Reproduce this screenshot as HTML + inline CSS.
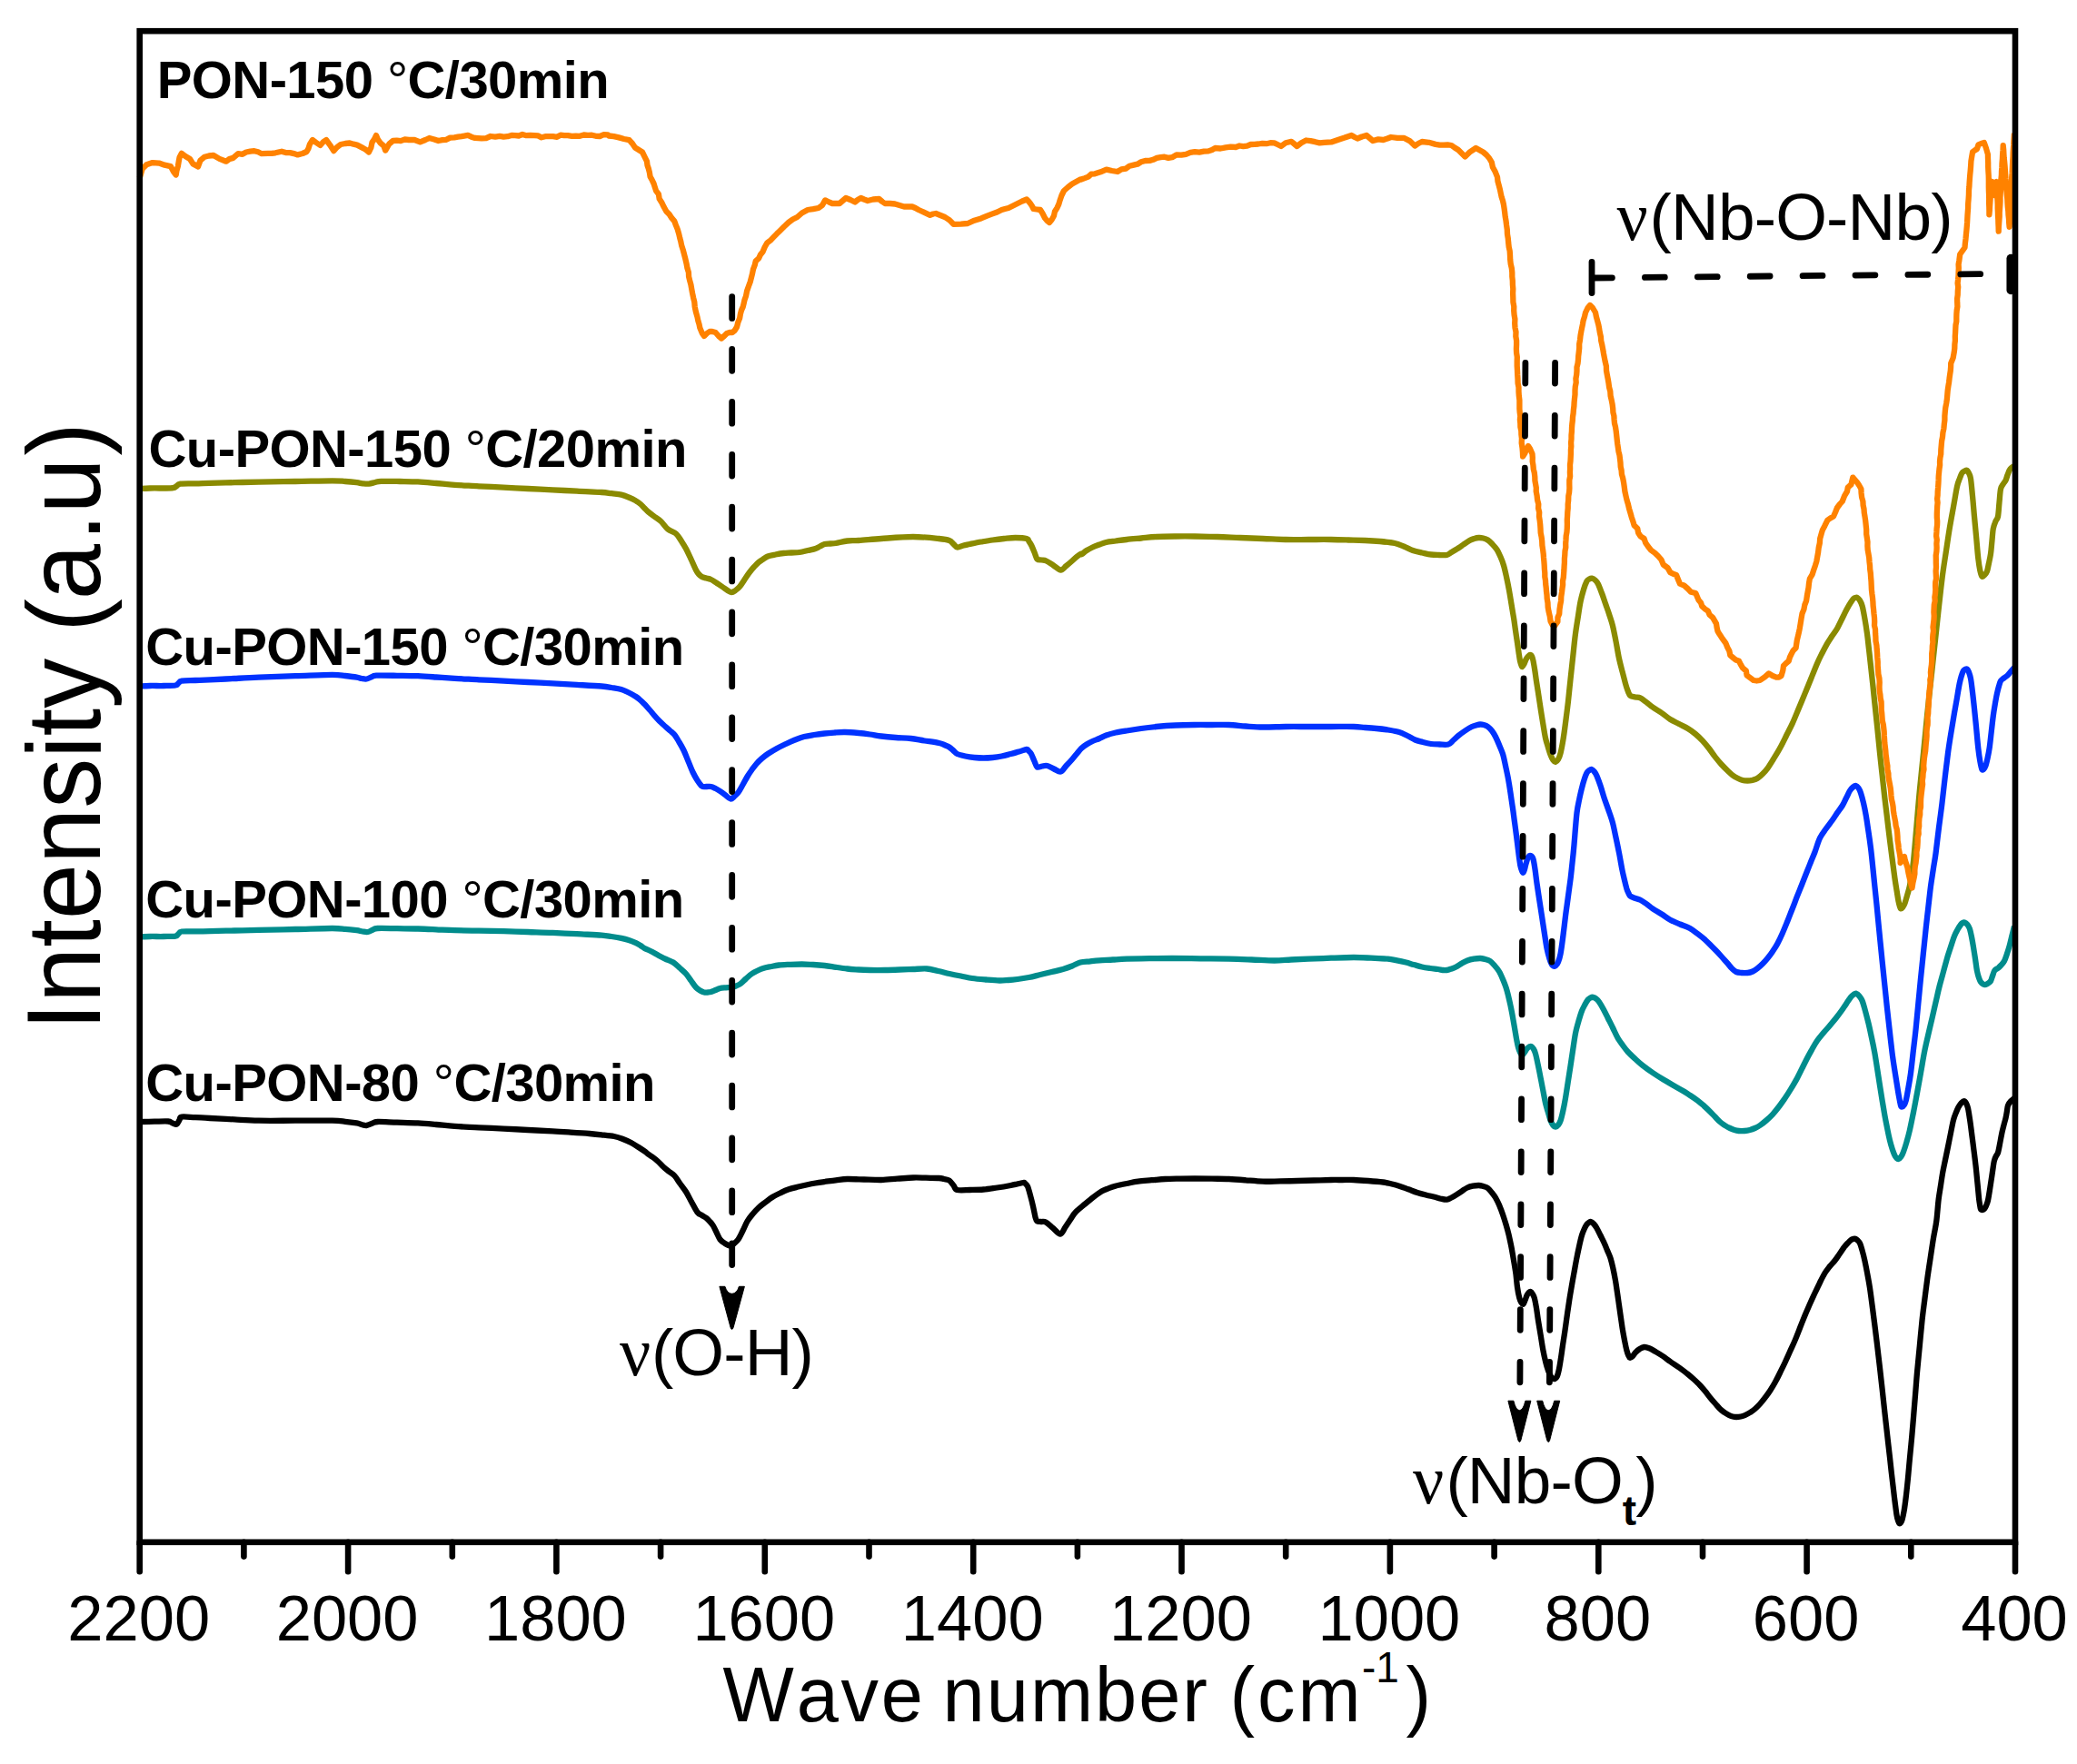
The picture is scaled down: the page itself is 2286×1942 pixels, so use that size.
<!DOCTYPE html>
<html><head><meta charset="utf-8"><title>FTIR spectra</title>
<style>html,body{margin:0;padding:0;background:#fff}svg{display:block}text{font-kerning:none;font-variant-ligatures:none}</style></head>
<body>
<svg width="2286" height="1942" viewBox="0 0 2286 1942">
<rect width="2286" height="1942" fill="#fff"/>
<g>
<g fill="none" stroke-linejoin="round" stroke-linecap="butt" stroke-width="6.3">
<path stroke="#000" d="M153.7 1235.0C156.4 1235.0 164.8 1234.8 170.0 1234.7C175.2 1234.6 181.7 1234.2 185.0 1234.5C188.3 1234.8 188.4 1236.0 190.0 1236.5C191.6 1237.0 193.2 1238.3 194.5 1237.7C195.8 1237.1 196.6 1234.3 197.5 1233.0C198.4 1231.7 197.1 1230.1 200.0 1229.6C202.9 1229.1 209.8 1230.0 215.0 1230.2C220.2 1230.4 223.8 1230.6 231.0 1231.0C238.2 1231.4 249.0 1232.0 258.0 1232.4C267.0 1232.9 273.6 1233.5 284.8 1233.7C296.0 1233.9 311.5 1233.7 325.0 1233.7C338.5 1233.7 356.5 1233.5 365.7 1233.7C374.9 1233.9 375.5 1234.3 380.0 1234.8C384.5 1235.2 389.6 1235.9 392.6 1236.4C395.6 1236.9 396.2 1237.6 398.0 1238.0C399.8 1238.4 401.5 1239.2 403.4 1239.0C405.3 1238.8 407.5 1237.5 409.5 1236.8C411.5 1236.1 411.0 1235.2 415.6 1235.0C420.2 1234.8 429.6 1235.5 437.0 1235.7C444.4 1235.9 452.8 1236.0 460.0 1236.4C467.2 1236.8 473.2 1237.4 480.0 1238.0C486.8 1238.6 492.7 1239.4 500.5 1239.9C508.3 1240.5 518.0 1240.8 527.0 1241.3C536.0 1241.8 545.4 1242.1 554.4 1242.6C563.4 1243.0 572.0 1243.5 581.0 1244.0C590.0 1244.5 600.5 1244.9 608.3 1245.3C616.1 1245.7 621.2 1246.1 628.0 1246.6C634.8 1247.0 643.1 1247.5 648.8 1248.0C654.5 1248.5 657.5 1248.8 662.0 1249.3C666.5 1249.8 672.0 1250.3 675.8 1251.0C679.6 1251.7 681.9 1252.5 685.0 1253.7C688.1 1254.9 691.8 1256.5 694.6 1258.0C697.4 1259.5 699.5 1260.9 702.0 1262.5C704.5 1264.1 707.4 1266.0 709.4 1267.4C711.4 1268.8 712.5 1269.9 714.0 1271.0C715.5 1272.1 716.8 1272.8 718.5 1274.0C720.2 1275.2 722.1 1276.8 724.0 1278.5C725.9 1280.2 728.0 1282.7 730.0 1284.5C732.0 1286.3 733.9 1287.8 736.0 1289.5C738.1 1291.2 740.4 1292.2 742.5 1294.5C744.6 1296.8 746.4 1300.1 748.5 1303.0C750.6 1305.9 752.9 1308.7 755.0 1312.0C757.1 1315.3 758.9 1319.2 761.0 1323.0C763.1 1326.8 765.6 1332.0 767.5 1334.5C769.4 1337.0 770.8 1336.9 772.5 1338.0C774.2 1339.1 776.0 1339.8 777.5 1341.0C779.0 1342.2 780.2 1343.6 781.5 1345.0C782.8 1346.4 783.8 1347.5 785.0 1349.5C786.2 1351.5 787.5 1354.5 788.7 1357.0C790.0 1359.5 791.0 1362.5 792.5 1364.5C794.0 1366.5 796.1 1367.8 798.0 1369.0C799.9 1370.2 802.3 1371.5 804.0 1371.5C805.7 1371.5 806.6 1370.2 808.0 1369.0C809.4 1367.8 810.9 1366.8 812.5 1364.5C814.1 1362.2 815.8 1358.3 817.5 1355.0C819.2 1351.7 820.7 1347.6 822.5 1344.5C824.3 1341.4 826.4 1339.0 828.5 1336.5C830.6 1334.0 832.7 1331.7 835.0 1329.5C837.3 1327.3 840.0 1325.4 842.5 1323.5C845.0 1321.6 847.3 1319.7 850.0 1318.0C852.7 1316.3 855.6 1314.9 858.5 1313.5C861.4 1312.1 864.3 1310.6 867.5 1309.5C870.7 1308.4 874.2 1307.6 877.5 1306.8C880.8 1306.0 884.2 1305.2 887.5 1304.5C890.8 1303.8 894.2 1303.1 897.5 1302.5C900.8 1301.9 903.8 1301.5 907.5 1301.0C911.2 1300.5 915.8 1299.8 920.0 1299.3C924.2 1298.8 927.3 1298.1 932.5 1298.0C937.7 1297.9 944.8 1298.3 951.0 1298.5C957.2 1298.7 963.9 1299.1 970.0 1299.0C976.1 1298.9 981.7 1298.1 987.5 1297.7C993.3 1297.3 999.8 1296.7 1005.0 1296.5C1010.2 1296.3 1014.3 1296.6 1019.0 1296.7C1023.7 1296.8 1030.1 1296.8 1033.4 1297.0C1036.8 1297.2 1037.2 1297.6 1039.1 1298.0C1040.9 1298.4 1042.9 1298.3 1044.7 1299.5C1046.4 1300.7 1048.0 1303.2 1049.5 1305.0C1051.0 1306.8 1050.5 1309.2 1053.5 1310.0C1056.5 1310.8 1062.7 1310.1 1067.5 1310.0C1072.3 1309.9 1077.5 1309.9 1082.5 1309.5C1087.5 1309.1 1092.5 1308.2 1097.5 1307.5C1102.5 1306.8 1108.8 1305.7 1112.5 1305.0C1116.2 1304.3 1117.2 1304.0 1119.5 1303.5C1121.8 1303.0 1125.1 1302.2 1126.5 1302.0C1127.9 1301.8 1127.2 1301.8 1128.0 1302.5C1128.8 1303.2 1130.0 1303.8 1131.0 1306.0C1132.0 1308.2 1133.0 1312.3 1134.0 1316.0C1135.0 1319.7 1136.1 1324.0 1137.0 1328.0C1137.9 1332.0 1138.8 1337.2 1139.5 1340.0C1140.2 1342.8 1140.4 1343.7 1141.5 1344.5C1142.6 1345.3 1144.4 1344.8 1146.0 1345.0C1147.6 1345.2 1148.8 1344.3 1151.0 1345.5C1153.2 1346.7 1156.3 1349.8 1159.0 1352.0C1161.7 1354.2 1164.8 1358.7 1167.0 1358.5C1169.2 1358.3 1170.6 1353.8 1172.5 1351.0C1174.4 1348.2 1176.6 1344.8 1178.5 1342.0C1180.4 1339.2 1181.1 1337.2 1183.8 1334.5C1186.4 1331.8 1191.5 1327.8 1194.2 1325.5C1196.9 1323.2 1198.0 1322.3 1200.0 1320.7C1202.0 1319.1 1203.9 1317.5 1206.0 1316.0C1208.1 1314.5 1210.2 1312.8 1212.5 1311.5C1214.8 1310.2 1217.5 1309.3 1220.0 1308.3C1222.5 1307.3 1224.2 1306.6 1227.5 1305.7C1230.8 1304.8 1235.8 1303.8 1240.0 1303.0C1244.2 1302.2 1247.9 1301.3 1252.5 1300.7C1257.1 1300.1 1262.5 1299.7 1267.5 1299.2C1272.5 1298.8 1277.2 1298.3 1282.5 1298.0C1287.8 1297.7 1293.6 1297.7 1299.0 1297.6C1304.4 1297.5 1309.2 1297.5 1315.0 1297.5C1320.8 1297.5 1327.8 1297.6 1334.0 1297.7C1340.2 1297.8 1346.3 1297.7 1352.5 1298.0C1358.7 1298.3 1364.8 1298.8 1371.0 1299.3C1377.2 1299.8 1383.7 1300.5 1390.0 1300.7C1396.3 1300.9 1402.8 1300.5 1409.0 1300.4C1415.2 1300.3 1421.3 1300.2 1427.5 1300.0C1433.7 1299.8 1439.8 1299.7 1446.0 1299.5C1452.2 1299.3 1459.8 1299.1 1465.0 1299.0C1470.2 1298.9 1473.3 1299.0 1477.5 1299.0C1481.7 1299.0 1485.2 1298.8 1490.0 1299.0C1494.8 1299.2 1500.6 1299.6 1506.0 1300.0C1511.4 1300.4 1518.3 1301.0 1522.5 1301.5C1526.7 1302.0 1528.1 1302.6 1531.0 1303.3C1533.9 1304.0 1536.8 1304.7 1540.0 1305.7C1543.2 1306.7 1546.7 1308.1 1550.0 1309.3C1553.3 1310.5 1556.7 1311.9 1560.0 1313.0C1563.3 1314.1 1566.7 1314.9 1570.0 1315.7C1573.3 1316.5 1577.3 1317.3 1580.0 1318.0C1582.7 1318.7 1583.9 1319.2 1586.0 1319.7C1588.1 1320.2 1590.6 1320.9 1592.5 1320.7C1594.4 1320.5 1595.8 1319.3 1597.5 1318.5C1599.2 1317.7 1600.6 1316.9 1602.5 1315.7C1604.4 1314.5 1606.9 1312.7 1609.0 1311.3C1611.1 1309.9 1613.0 1308.4 1615.0 1307.5C1617.0 1306.6 1618.9 1306.1 1621.0 1305.7C1623.1 1305.3 1625.6 1305.0 1627.5 1305.0C1629.4 1305.0 1630.8 1305.5 1632.5 1306.0C1634.2 1306.5 1635.9 1306.8 1637.5 1308.0C1639.1 1309.2 1640.6 1311.2 1642.0 1313.0C1643.4 1314.8 1644.7 1316.2 1646.0 1318.5C1647.3 1320.8 1648.7 1323.4 1650.0 1326.5C1651.3 1329.6 1652.8 1333.4 1654.0 1337.0C1655.2 1340.6 1656.4 1344.3 1657.5 1348.0C1658.6 1351.7 1659.6 1355.2 1660.5 1359.0C1661.4 1362.8 1662.2 1366.8 1663.0 1370.5C1663.8 1374.2 1664.4 1377.9 1665.0 1381.5C1665.6 1385.1 1666.2 1388.4 1666.8 1392.0C1667.4 1395.6 1668.0 1398.8 1668.5 1403.0C1669.0 1407.2 1669.4 1412.7 1670.0 1417.0C1670.6 1421.3 1671.6 1426.2 1672.3 1429.0C1673.0 1431.8 1673.7 1432.9 1674.4 1434.0C1675.1 1435.1 1675.8 1436.2 1676.5 1435.8C1677.2 1435.4 1677.8 1433.1 1678.5 1431.5C1679.2 1429.9 1679.9 1427.4 1680.6 1426.0C1681.3 1424.6 1681.9 1423.7 1682.6 1423.0C1683.3 1422.3 1684.0 1421.8 1684.7 1422.0C1685.4 1422.2 1686.1 1423.3 1686.8 1424.5C1687.5 1425.7 1688.1 1426.4 1688.8 1429.0C1689.5 1431.6 1690.3 1435.9 1691.0 1440.0C1691.7 1444.1 1692.2 1448.7 1693.0 1453.7C1693.8 1458.7 1694.8 1464.5 1695.7 1470.0C1696.6 1475.5 1697.5 1481.7 1698.4 1486.6C1699.3 1491.5 1700.3 1495.8 1701.2 1499.5C1702.1 1503.2 1703.1 1506.5 1704.0 1509.0C1704.9 1511.5 1705.7 1513.1 1706.5 1514.5C1707.3 1515.9 1708.2 1516.9 1709.0 1517.5C1709.8 1518.1 1710.5 1518.3 1711.3 1518.0C1712.1 1517.7 1712.9 1517.3 1713.7 1515.5C1714.5 1513.7 1715.3 1510.4 1716.0 1507.0C1716.7 1503.6 1717.3 1499.3 1718.0 1495.0C1718.7 1490.7 1719.3 1485.8 1720.0 1481.0C1720.7 1476.2 1721.5 1471.5 1722.3 1466.0C1723.1 1460.5 1724.0 1453.8 1724.8 1448.0C1725.6 1442.2 1726.5 1436.3 1727.3 1431.0C1728.1 1425.7 1729.0 1420.8 1729.8 1416.0C1730.6 1411.2 1731.4 1406.8 1732.3 1402.0C1733.2 1397.2 1734.0 1392.2 1735.0 1387.0C1736.0 1381.8 1737.3 1375.5 1738.3 1371.0C1739.3 1366.5 1740.1 1363.0 1741.0 1360.0C1741.9 1357.0 1742.8 1355.0 1743.7 1353.0C1744.6 1351.0 1745.6 1349.2 1746.4 1348.0C1747.2 1346.8 1747.9 1346.5 1748.7 1346.0C1749.5 1345.5 1750.1 1344.8 1751.0 1345.0C1751.9 1345.2 1753.1 1346.3 1754.2 1347.5C1755.3 1348.7 1756.2 1349.9 1757.4 1352.0C1758.6 1354.1 1760.1 1357.2 1761.5 1360.0C1762.9 1362.8 1764.5 1365.8 1765.7 1368.6C1767.0 1371.3 1767.9 1373.8 1769.0 1376.5C1770.1 1379.2 1771.5 1381.8 1772.5 1385.0C1773.5 1388.2 1774.4 1391.9 1775.3 1396.0C1776.2 1400.1 1777.2 1405.3 1778.0 1409.8C1778.8 1414.3 1779.3 1418.5 1780.0 1423.0C1780.7 1427.5 1781.3 1432.3 1782.0 1437.0C1782.7 1441.7 1783.3 1446.4 1784.0 1451.0C1784.7 1455.6 1785.3 1460.3 1786.0 1464.6C1786.7 1468.8 1787.5 1472.8 1788.2 1476.5C1788.9 1480.2 1789.7 1484.0 1790.4 1486.6C1791.1 1489.2 1791.6 1490.6 1792.2 1492.0C1792.8 1493.4 1793.2 1494.6 1794.0 1494.8C1794.8 1495.0 1796.0 1494.0 1797.0 1493.0C1798.0 1492.0 1798.7 1490.3 1800.0 1489.0C1801.3 1487.7 1803.2 1486.0 1804.8 1485.0C1806.4 1484.0 1807.8 1483.1 1809.6 1483.0C1811.4 1482.9 1813.7 1483.7 1815.8 1484.5C1817.9 1485.3 1819.6 1486.6 1822.0 1488.0C1824.4 1489.4 1827.5 1491.2 1830.2 1493.0C1832.9 1494.8 1835.4 1496.9 1838.4 1499.0C1841.4 1501.1 1844.8 1503.2 1848.0 1505.5C1851.2 1507.8 1854.9 1510.5 1857.6 1512.7C1860.3 1514.9 1862.1 1516.5 1864.3 1518.5C1866.5 1520.5 1868.9 1522.8 1871.0 1525.0C1873.1 1527.2 1874.8 1529.2 1876.7 1531.5C1878.6 1533.8 1880.5 1536.5 1882.3 1538.7C1884.1 1541.0 1885.9 1543.0 1887.7 1545.0C1889.5 1547.0 1891.3 1549.3 1893.0 1551.0C1894.7 1552.7 1896.3 1553.8 1898.0 1555.0C1899.7 1556.2 1901.5 1557.2 1903.0 1558.0C1904.5 1558.8 1905.7 1559.2 1907.0 1559.5C1908.3 1559.8 1909.5 1560.0 1911.0 1560.0C1912.5 1560.0 1914.4 1559.8 1916.0 1559.5C1917.6 1559.2 1919.0 1558.8 1920.7 1558.0C1922.4 1557.2 1924.4 1556.2 1926.2 1555.0C1928.0 1553.8 1929.9 1552.6 1931.7 1551.0C1933.5 1549.4 1935.4 1547.5 1937.2 1545.5C1939.0 1543.5 1940.9 1541.1 1942.7 1538.7C1944.5 1536.3 1946.4 1533.8 1948.2 1531.0C1950.0 1528.2 1951.8 1525.2 1953.6 1522.0C1955.4 1518.8 1957.2 1515.2 1959.0 1511.5C1960.8 1507.8 1962.8 1503.9 1964.6 1500.0C1966.4 1496.1 1968.2 1492.1 1970.0 1488.0C1971.8 1483.9 1973.8 1479.9 1975.6 1475.6C1977.4 1471.3 1979.2 1466.6 1981.0 1462.0C1982.8 1457.4 1984.8 1452.4 1986.6 1448.0C1988.4 1443.6 1990.2 1439.6 1992.0 1435.5C1993.8 1431.4 1995.7 1427.4 1997.5 1423.5C1999.3 1419.6 2001.2 1415.7 2003.0 1412.0C2004.8 1408.3 2006.7 1404.5 2008.5 1401.5C2010.3 1398.5 2012.2 1396.3 2014.0 1394.0C2015.8 1391.7 2017.8 1390.0 2019.5 1387.8C2021.2 1385.6 2022.7 1383.3 2024.3 1381.0C2025.9 1378.7 2027.5 1376.0 2029.0 1374.0C2030.5 1372.0 2031.8 1370.5 2033.2 1369.0C2034.6 1367.5 2036.2 1365.8 2037.3 1365.0C2038.4 1364.2 2038.9 1364.2 2039.7 1364.0C2040.5 1363.8 2041.2 1363.5 2042.0 1363.7C2042.8 1364.0 2043.7 1364.7 2044.5 1365.5C2045.3 1366.3 2046.1 1366.7 2047.0 1368.6C2047.9 1370.5 2048.8 1373.8 2049.7 1377.0C2050.6 1380.2 2051.5 1383.6 2052.4 1387.8C2053.3 1392.0 2054.3 1397.0 2055.2 1402.0C2056.1 1407.0 2057.1 1412.0 2058.0 1418.0C2058.9 1424.0 2059.8 1431.2 2060.7 1438.0C2061.6 1444.8 2062.5 1451.7 2063.4 1459.0C2064.3 1466.3 2065.3 1474.2 2066.2 1482.0C2067.1 1489.8 2068.1 1497.8 2069.0 1505.8C2069.9 1513.8 2070.8 1521.8 2071.7 1530.0C2072.6 1538.2 2073.5 1546.7 2074.4 1555.0C2075.3 1563.3 2076.3 1571.7 2077.2 1580.0C2078.1 1588.3 2079.2 1597.4 2080.0 1604.6C2080.8 1611.8 2081.3 1617.1 2082.0 1623.0C2082.7 1628.9 2083.4 1634.7 2084.0 1640.0C2084.6 1645.3 2085.2 1650.4 2085.8 1655.0C2086.4 1659.6 2087.0 1664.5 2087.5 1667.7C2088.0 1670.9 2088.5 1672.5 2089.0 1674.0C2089.5 1675.5 2089.8 1676.6 2090.3 1677.0C2090.8 1677.4 2091.4 1677.2 2092.0 1676.5C2092.6 1675.8 2093.0 1675.2 2093.6 1673.0C2094.2 1670.8 2095.0 1667.1 2095.7 1663.0C2096.4 1658.9 2097.0 1654.2 2097.7 1648.5C2098.4 1642.8 2099.1 1635.9 2099.8 1629.0C2100.5 1622.1 2101.1 1614.5 2101.8 1607.0C2102.5 1599.5 2103.3 1591.7 2104.0 1584.0C2104.7 1576.3 2105.3 1568.7 2106.0 1560.7C2106.7 1552.7 2107.3 1544.3 2108.0 1536.0C2108.7 1527.7 2109.2 1520.0 2110.0 1511.0C2110.8 1502.0 2111.9 1491.5 2112.8 1482.0C2113.7 1472.5 2114.6 1462.2 2115.5 1453.7C2116.4 1445.2 2117.4 1438.3 2118.3 1431.0C2119.2 1423.7 2120.0 1417.3 2121.0 1409.8C2122.0 1402.3 2123.3 1393.8 2124.5 1386.0C2125.7 1378.2 2126.8 1370.1 2128.0 1363.0C2129.2 1355.9 2130.5 1350.7 2131.4 1343.5C2132.3 1336.3 2132.9 1326.4 2133.7 1320.0C2134.5 1313.6 2135.3 1309.7 2136.0 1305.0C2136.7 1300.3 2137.2 1296.7 2138.0 1292.0C2138.8 1287.3 2140.0 1281.9 2141.0 1277.0C2142.0 1272.1 2143.0 1267.4 2144.0 1262.5C2145.0 1257.6 2146.0 1252.4 2147.0 1247.5C2148.0 1242.6 2149.0 1236.8 2150.0 1233.0C2151.0 1229.2 2152.0 1227.0 2153.0 1224.5C2154.0 1222.0 2154.9 1220.0 2155.8 1218.3C2156.8 1216.6 2157.7 1215.2 2158.7 1214.2C2159.7 1213.2 2160.7 1212.2 2161.6 1212.2C2162.5 1212.2 2163.3 1213.2 2164.0 1214.5C2164.7 1215.8 2165.3 1217.1 2166.0 1220.0C2166.7 1222.9 2167.3 1227.5 2168.0 1232.0C2168.7 1236.5 2169.3 1241.5 2170.0 1247.0C2170.7 1252.5 2171.6 1259.0 2172.3 1265.0C2173.1 1271.0 2173.8 1277.0 2174.5 1283.0C2175.2 1289.0 2175.7 1295.0 2176.3 1301.0C2176.9 1307.0 2177.6 1314.5 2178.0 1318.7C2178.4 1322.9 2178.7 1324.0 2179.0 1326.0C2179.3 1328.0 2179.5 1330.0 2180.0 1331.0C2180.5 1332.0 2181.3 1332.0 2182.0 1332.0C2182.7 1332.0 2183.3 1331.8 2184.0 1331.0C2184.7 1330.2 2185.3 1329.1 2186.0 1327.5C2186.7 1325.9 2187.3 1324.7 2188.0 1321.5C2188.7 1318.3 2189.5 1313.1 2190.2 1308.5C2190.9 1303.9 2191.8 1297.9 2192.4 1294.0C2193.0 1290.1 2193.3 1287.8 2193.7 1285.0C2194.1 1282.2 2194.4 1279.6 2195.0 1277.5C2195.6 1275.4 2196.3 1273.9 2197.0 1272.5C2197.7 1271.1 2198.3 1271.3 2199.0 1269.0C2199.7 1266.7 2200.5 1262.2 2201.2 1258.5C2201.9 1254.8 2202.7 1250.3 2203.4 1247.0C2204.1 1243.7 2204.8 1241.2 2205.5 1238.5C2206.2 1235.8 2206.9 1233.4 2207.5 1231.0C2208.1 1228.6 2208.4 1226.3 2208.8 1224.0C2209.2 1221.7 2209.3 1218.9 2210.0 1217.0C2210.7 1215.1 2211.8 1213.8 2213.0 1212.5C2214.2 1211.2 2216.3 1209.6 2217.0 1209.0"/>
<path stroke="#008C8C" d="M153.7 1031.4C155.6 1031.3 160.6 1031.1 165.0 1031.0C169.4 1030.9 175.3 1031.1 180.0 1031.0C184.7 1030.9 190.2 1031.1 193.0 1030.6C195.8 1030.1 195.3 1028.8 196.5 1028.0C197.7 1027.2 196.9 1025.9 200.0 1025.5C203.1 1025.1 209.8 1025.5 215.0 1025.4C220.2 1025.4 223.8 1025.4 231.0 1025.2C238.2 1025.0 249.0 1024.7 258.0 1024.5C267.0 1024.3 273.6 1024.2 284.8 1023.9C296.0 1023.6 311.5 1023.3 325.0 1023.0C338.5 1022.7 356.5 1022.0 365.7 1022.0C374.9 1022.0 375.5 1022.4 380.0 1022.8C384.5 1023.2 389.4 1023.8 392.6 1024.2C395.8 1024.7 397.0 1025.2 399.0 1025.5C401.0 1025.8 403.0 1026.3 404.8 1026.0C406.6 1025.7 408.2 1024.5 410.0 1023.8C411.8 1023.1 411.1 1022.3 415.6 1022.0C420.1 1021.7 429.6 1022.1 437.0 1022.2C444.4 1022.3 452.8 1022.3 460.0 1022.5C467.2 1022.7 473.2 1023.0 480.0 1023.3C486.8 1023.6 492.7 1024.0 500.5 1024.2C508.3 1024.4 518.0 1024.5 527.0 1024.7C536.0 1024.9 545.4 1025.0 554.4 1025.2C563.4 1025.4 572.0 1025.7 581.0 1026.0C590.0 1026.3 599.3 1026.5 608.3 1026.9C617.3 1027.3 626.0 1027.8 635.0 1028.2C644.0 1028.7 655.9 1029.1 662.2 1029.6C668.5 1030.1 669.4 1030.5 673.0 1031.0C676.6 1031.5 680.6 1032.1 683.8 1032.8C687.0 1033.5 689.3 1034.1 692.0 1035.0C694.7 1035.9 697.8 1037.2 700.0 1038.2C702.2 1039.2 703.4 1040.0 705.0 1041.0C706.6 1042.0 707.6 1043.0 709.4 1044.0C711.2 1045.0 713.4 1045.7 716.0 1047.0C718.6 1048.3 722.2 1050.5 725.0 1052.0C727.8 1053.5 730.3 1054.8 733.0 1056.0C735.7 1057.2 738.5 1057.9 741.0 1059.5C743.5 1061.1 745.7 1063.4 748.0 1065.5C750.3 1067.6 752.9 1069.7 755.0 1072.0C757.1 1074.3 758.7 1077.0 760.5 1079.5C762.3 1082.0 764.3 1085.2 766.0 1087.0C767.7 1088.8 769.0 1089.6 770.5 1090.5C772.0 1091.4 773.6 1092.2 775.0 1092.5C776.4 1092.8 777.8 1092.6 779.0 1092.5C780.2 1092.4 781.1 1092.4 782.5 1092.0C783.9 1091.6 785.8 1090.7 787.5 1090.0C789.2 1089.3 790.6 1088.5 792.5 1088.0C794.4 1087.5 796.9 1087.5 799.0 1087.3C801.1 1087.1 803.2 1087.3 805.0 1087.0C806.8 1086.7 808.3 1086.2 810.0 1085.5C811.7 1084.8 813.2 1084.3 815.0 1083.0C816.8 1081.7 818.9 1079.3 821.0 1077.5C823.1 1075.7 825.3 1073.5 827.5 1072.0C829.7 1070.5 831.9 1069.5 834.0 1068.5C836.1 1067.5 837.5 1066.8 840.0 1066.0C842.5 1065.2 846.1 1064.6 849.0 1064.0C851.9 1063.4 854.0 1062.9 857.5 1062.5C861.0 1062.1 865.8 1062.0 870.0 1061.8C874.2 1061.6 878.3 1061.5 882.5 1061.5C886.7 1061.5 890.8 1061.8 895.0 1062.0C899.2 1062.2 903.3 1062.5 907.5 1063.0C911.7 1063.5 915.8 1064.2 920.0 1064.8C924.2 1065.4 928.3 1066.0 932.5 1066.5C936.7 1067.0 940.8 1067.2 945.0 1067.5C949.2 1067.8 952.7 1067.9 957.5 1068.0C962.3 1068.1 968.6 1068.1 974.0 1068.0C979.4 1067.9 984.8 1067.7 990.0 1067.5C995.2 1067.3 1000.0 1067.2 1005.0 1067.0C1010.0 1066.8 1015.4 1066.2 1020.0 1066.5C1024.6 1066.8 1028.3 1068.1 1032.5 1069.0C1036.7 1069.9 1040.8 1071.1 1045.0 1072.0C1049.2 1072.9 1053.3 1073.7 1057.5 1074.5C1061.7 1075.3 1065.4 1076.3 1070.0 1077.0C1074.6 1077.7 1080.0 1078.1 1085.0 1078.5C1090.0 1078.9 1095.8 1079.4 1100.0 1079.5C1104.2 1079.6 1106.7 1079.2 1110.0 1079.0C1113.3 1078.8 1116.2 1078.5 1120.0 1078.0C1123.8 1077.5 1128.3 1076.8 1132.5 1076.0C1136.7 1075.2 1140.8 1074.0 1145.0 1073.0C1149.2 1072.0 1153.3 1071.0 1157.5 1070.0C1161.7 1069.0 1166.2 1068.1 1170.0 1067.0C1173.8 1065.9 1176.8 1064.8 1180.0 1063.5C1183.2 1062.2 1185.7 1060.4 1189.0 1059.5C1192.3 1058.6 1196.5 1058.7 1200.0 1058.3C1203.5 1057.9 1205.8 1057.6 1210.0 1057.3C1214.2 1057.0 1220.0 1056.8 1225.0 1056.5C1230.0 1056.2 1233.3 1055.9 1240.0 1055.7C1246.7 1055.5 1256.7 1055.3 1265.0 1055.2C1273.3 1055.1 1280.7 1055.0 1290.0 1055.0C1299.3 1055.0 1310.6 1055.2 1321.0 1055.3C1331.4 1055.4 1343.1 1055.5 1352.5 1055.7C1361.9 1055.9 1369.2 1056.2 1377.5 1056.5C1385.8 1056.8 1395.2 1057.5 1402.5 1057.5C1409.8 1057.5 1414.8 1056.8 1421.0 1056.5C1427.2 1056.2 1432.7 1056.0 1440.0 1055.7C1447.3 1055.4 1456.7 1055.0 1465.0 1054.7C1473.3 1054.4 1482.7 1054.0 1490.0 1054.0C1497.3 1054.0 1502.8 1054.4 1509.0 1054.7C1515.2 1055.0 1522.8 1055.3 1527.5 1055.7C1532.2 1056.1 1534.2 1056.7 1537.5 1057.3C1540.8 1057.9 1544.4 1058.7 1547.5 1059.5C1550.6 1060.3 1553.1 1061.2 1556.0 1062.0C1558.9 1062.8 1562.0 1063.8 1565.0 1064.5C1568.0 1065.2 1571.1 1065.6 1574.0 1066.0C1576.9 1066.4 1580.2 1066.7 1582.5 1067.0C1584.8 1067.3 1586.3 1067.8 1588.0 1068.0C1589.7 1068.2 1590.9 1068.2 1592.5 1068.0C1594.1 1067.8 1595.8 1067.1 1597.5 1066.5C1599.2 1065.9 1600.6 1065.5 1602.5 1064.5C1604.4 1063.5 1606.9 1061.7 1609.0 1060.5C1611.1 1059.3 1612.8 1058.3 1615.0 1057.5C1617.2 1056.7 1619.7 1056.1 1622.0 1055.7C1624.3 1055.3 1626.9 1055.0 1629.0 1055.0C1631.1 1055.0 1632.7 1055.5 1634.5 1056.0C1636.3 1056.5 1638.2 1056.8 1640.0 1058.0C1641.8 1059.2 1643.3 1061.1 1645.0 1063.0C1646.7 1064.9 1648.5 1067.0 1650.0 1069.5C1651.5 1072.0 1652.8 1075.1 1654.0 1078.0C1655.2 1080.9 1656.5 1084.0 1657.5 1087.0C1658.5 1090.0 1659.2 1092.7 1660.0 1096.0C1660.8 1099.3 1661.7 1103.0 1662.5 1107.0C1663.3 1111.0 1664.2 1115.4 1665.0 1120.0C1665.8 1124.6 1666.8 1130.3 1667.5 1134.5C1668.2 1138.7 1668.7 1141.9 1669.3 1145.0C1669.9 1148.1 1670.4 1150.8 1671.0 1153.0C1671.6 1155.2 1672.2 1157.1 1673.0 1158.5C1673.8 1159.9 1674.7 1161.5 1675.5 1161.5C1676.3 1161.5 1677.2 1159.7 1678.0 1158.5C1678.8 1157.3 1679.8 1155.5 1680.6 1154.5C1681.4 1153.5 1682.2 1152.9 1683.0 1152.5C1683.8 1152.1 1684.7 1151.6 1685.5 1152.0C1686.3 1152.4 1687.2 1153.7 1688.0 1155.0C1688.8 1156.3 1689.2 1157.2 1690.0 1160.0C1690.8 1162.8 1691.8 1167.5 1692.7 1172.0C1693.7 1176.5 1694.8 1182.2 1695.7 1187.0C1696.7 1191.8 1697.5 1196.4 1698.4 1201.0C1699.3 1205.6 1700.1 1210.4 1701.0 1214.4C1701.9 1218.4 1703.1 1221.8 1704.0 1225.0C1704.9 1228.2 1705.7 1231.3 1706.6 1233.6C1707.5 1235.9 1708.6 1237.8 1709.5 1239.0C1710.4 1240.2 1711.1 1240.6 1712.0 1240.5C1712.9 1240.4 1714.1 1239.7 1715.0 1238.5C1715.9 1237.3 1716.7 1236.2 1717.6 1233.6C1718.5 1231.0 1719.4 1227.1 1720.3 1223.0C1721.2 1218.9 1722.1 1214.3 1723.0 1209.0C1723.9 1203.7 1724.9 1197.0 1725.8 1191.0C1726.7 1185.0 1727.7 1179.0 1728.6 1173.0C1729.5 1167.0 1730.4 1160.9 1731.3 1155.0C1732.2 1149.1 1733.0 1142.8 1734.0 1137.6C1735.0 1132.4 1736.3 1128.1 1737.5 1124.0C1738.7 1119.9 1739.8 1116.0 1741.0 1113.0C1742.2 1110.0 1743.3 1108.1 1744.4 1106.0C1745.5 1103.9 1746.8 1101.8 1747.8 1100.5C1748.8 1099.2 1749.6 1099.0 1750.5 1098.5C1751.4 1098.0 1752.3 1097.6 1753.3 1097.8C1754.3 1098.0 1755.6 1098.6 1756.7 1099.5C1757.8 1100.4 1758.6 1101.0 1760.0 1103.0C1761.4 1105.0 1763.4 1108.5 1765.0 1111.5C1766.6 1114.5 1768.1 1117.6 1769.8 1121.0C1771.5 1124.4 1773.5 1128.3 1775.3 1132.0C1777.1 1135.7 1778.9 1139.8 1780.7 1143.0C1782.5 1146.2 1784.4 1148.5 1786.2 1151.0C1788.0 1153.5 1789.4 1155.5 1791.7 1158.0C1794.0 1160.5 1797.3 1163.5 1800.0 1166.0C1802.7 1168.5 1804.8 1170.5 1808.0 1173.0C1811.2 1175.5 1815.3 1178.5 1819.0 1181.0C1822.7 1183.5 1826.3 1185.8 1830.0 1188.0C1833.7 1190.2 1837.3 1192.4 1841.0 1194.5C1844.7 1196.6 1848.8 1198.8 1852.0 1200.7C1855.2 1202.6 1857.5 1204.2 1860.3 1206.0C1863.1 1207.8 1866.1 1209.8 1868.6 1211.7C1871.1 1213.6 1873.2 1215.5 1875.5 1217.5C1877.8 1219.5 1880.3 1222.0 1882.3 1224.0C1884.3 1226.0 1885.9 1227.7 1887.7 1229.5C1889.5 1231.3 1891.2 1233.4 1893.0 1235.0C1894.8 1236.6 1896.7 1237.8 1898.5 1239.0C1900.3 1240.2 1902.2 1241.2 1904.0 1242.0C1905.8 1242.8 1907.4 1243.5 1909.0 1244.0C1910.6 1244.5 1912.0 1244.8 1913.8 1245.0C1915.6 1245.2 1918.0 1245.2 1920.0 1245.0C1922.0 1244.8 1924.1 1244.5 1926.0 1244.0C1927.9 1243.5 1929.7 1242.8 1931.5 1242.0C1933.3 1241.2 1934.9 1240.4 1937.0 1239.0C1939.1 1237.6 1941.7 1235.5 1944.0 1233.5C1946.3 1231.5 1948.7 1229.3 1951.0 1226.8C1953.3 1224.3 1955.5 1221.5 1957.8 1218.5C1960.1 1215.5 1962.3 1212.3 1964.6 1209.0C1966.8 1205.7 1969.1 1202.2 1971.3 1198.5C1973.5 1194.8 1976.0 1190.8 1978.0 1187.0C1980.0 1183.2 1981.7 1179.7 1983.5 1176.0C1985.3 1172.3 1987.2 1168.5 1989.0 1165.0C1990.8 1161.5 1992.7 1158.2 1994.5 1155.0C1996.3 1151.8 1997.9 1148.8 2000.0 1145.8C2002.1 1142.8 2004.7 1139.8 2007.0 1137.0C2009.3 1134.2 2011.7 1131.8 2014.0 1129.0C2016.3 1126.2 2018.7 1123.4 2021.0 1120.5C2023.3 1117.6 2025.8 1114.2 2027.7 1111.5C2029.6 1108.8 2030.9 1106.8 2032.4 1104.5C2034.0 1102.2 2035.7 1099.4 2037.0 1097.8C2038.3 1096.2 2039.0 1095.7 2040.0 1095.0C2041.0 1094.3 2041.8 1093.5 2042.8 1093.7C2043.8 1094.0 2045.2 1095.1 2046.3 1096.5C2047.4 1097.9 2048.6 1099.2 2049.7 1102.0C2050.8 1104.8 2051.9 1108.9 2053.0 1113.0C2054.1 1117.1 2055.3 1121.7 2056.5 1126.6C2057.7 1131.5 2058.8 1137.0 2060.0 1142.5C2061.2 1148.0 2062.4 1153.8 2063.4 1159.5C2064.4 1165.2 2065.3 1171.1 2066.2 1177.0C2067.1 1182.9 2068.1 1189.2 2069.0 1195.0C2069.9 1200.8 2070.8 1206.5 2071.7 1212.0C2072.6 1217.5 2073.5 1222.9 2074.4 1228.0C2075.3 1233.1 2076.3 1237.9 2077.2 1242.5C2078.1 1247.1 2079.1 1251.8 2080.0 1255.6C2080.9 1259.3 2081.8 1262.3 2082.7 1265.0C2083.6 1267.7 2084.6 1270.3 2085.4 1272.0C2086.2 1273.7 2086.8 1274.3 2087.5 1275.0C2088.2 1275.7 2088.7 1276.2 2089.5 1276.0C2090.3 1275.8 2091.4 1274.8 2092.3 1273.5C2093.2 1272.2 2094.0 1270.7 2095.0 1268.0C2096.0 1265.3 2097.3 1261.4 2098.4 1257.5C2099.5 1253.6 2100.5 1250.1 2101.8 1244.6C2103.1 1239.1 2104.6 1231.4 2106.0 1224.5C2107.4 1217.6 2108.6 1210.8 2110.0 1203.4C2111.4 1196.0 2112.8 1187.8 2114.2 1180.0C2115.6 1172.2 2116.9 1163.7 2118.3 1156.8C2119.7 1149.9 2121.0 1144.5 2122.4 1138.5C2123.8 1132.5 2125.1 1126.9 2126.5 1121.0C2127.9 1115.1 2129.2 1108.9 2130.6 1103.0C2132.0 1097.1 2133.3 1090.9 2134.7 1085.4C2136.1 1079.9 2137.5 1075.1 2138.9 1070.0C2140.3 1064.9 2141.7 1059.6 2143.0 1055.0C2144.3 1050.4 2145.7 1046.6 2147.0 1042.5C2148.3 1038.4 2149.8 1033.8 2151.0 1030.6C2152.2 1027.4 2153.3 1025.6 2154.5 1023.5C2155.7 1021.4 2157.1 1019.2 2158.0 1018.0C2158.9 1016.8 2159.3 1016.4 2160.0 1016.0C2160.7 1015.6 2161.2 1015.2 2162.0 1015.5C2162.8 1015.8 2164.1 1016.4 2165.0 1017.5C2165.9 1018.6 2166.9 1019.8 2167.7 1022.0C2168.5 1024.2 2169.1 1027.2 2169.8 1030.5C2170.5 1033.8 2171.1 1037.3 2171.8 1041.5C2172.5 1045.7 2173.3 1050.9 2174.0 1055.5C2174.7 1060.1 2175.3 1065.5 2176.0 1069.0C2176.7 1072.5 2177.3 1074.5 2178.0 1076.5C2178.7 1078.5 2179.2 1079.8 2180.0 1081.0C2180.8 1082.2 2181.9 1083.0 2182.8 1083.5C2183.7 1084.0 2184.6 1084.2 2185.5 1084.0C2186.4 1083.8 2187.4 1083.2 2188.3 1082.5C2189.2 1081.8 2190.2 1081.3 2191.0 1080.0C2191.8 1078.7 2192.3 1076.3 2193.0 1074.5C2193.7 1072.7 2194.3 1070.2 2195.0 1069.0C2195.7 1067.8 2196.3 1067.5 2197.0 1067.0C2197.7 1066.5 2198.1 1066.8 2199.0 1066.0C2199.9 1065.2 2201.3 1063.8 2202.5 1062.5C2203.7 1061.2 2204.9 1060.0 2206.0 1058.0C2207.1 1056.0 2207.9 1053.2 2208.8 1050.5C2209.7 1047.8 2210.7 1044.8 2211.6 1041.5C2212.5 1038.2 2213.4 1034.2 2214.3 1030.5C2215.2 1026.8 2216.6 1021.4 2217.0 1019.6"/>
<path stroke="#0032FF" d="M153.7 755.5C155.6 755.4 160.6 755.1 165.0 755.0C169.4 754.9 175.3 755.1 180.0 755.0C184.7 754.9 190.2 755.0 193.0 754.5C195.8 754.0 195.3 752.8 196.5 752.0C197.7 751.2 196.9 750.1 200.0 749.6C203.1 749.1 209.8 749.2 215.0 749.0C220.2 748.8 223.8 748.6 231.0 748.3C238.2 748.0 249.0 747.5 258.0 747.0C267.0 746.5 273.6 746.1 284.8 745.6C296.0 745.1 311.5 744.7 325.0 744.2C338.5 743.8 356.5 742.9 365.7 742.9C374.9 742.9 375.5 743.5 380.0 744.0C384.5 744.5 389.6 745.1 392.6 745.6C395.6 746.1 396.2 746.7 398.0 747.0C399.8 747.3 401.6 747.8 403.4 747.5C405.2 747.2 407.2 745.9 409.0 745.3C410.8 744.7 409.5 744.0 414.2 743.7C418.9 743.5 429.4 743.7 437.0 743.8C444.6 743.9 452.8 743.9 460.0 744.2C467.2 744.5 473.2 745.0 480.0 745.5C486.8 746.0 492.7 746.4 500.5 746.9C508.3 747.4 518.0 747.8 527.0 748.3C536.0 748.8 545.4 749.1 554.4 749.6C563.4 750.1 572.0 750.5 581.0 751.0C590.0 751.5 599.3 751.8 608.3 752.3C617.3 752.8 626.0 753.4 635.0 753.9C644.0 754.4 655.9 755.0 662.2 755.5C668.5 756.0 669.4 756.4 673.0 757.0C676.6 757.6 680.6 758.1 683.8 759.0C687.0 759.9 689.3 761.2 692.0 762.5C694.7 763.8 697.8 765.6 700.0 767.0C702.2 768.4 703.4 769.6 705.0 771.0C706.6 772.4 707.7 773.5 709.4 775.2C711.1 777.0 713.2 779.5 715.0 781.5C716.8 783.5 718.2 785.4 720.0 787.5C721.8 789.6 723.9 791.9 726.0 794.0C728.1 796.1 730.6 798.2 732.5 800.0C734.4 801.8 735.8 803.0 737.5 804.5C739.2 806.0 740.8 806.9 742.5 809.0C744.2 811.1 745.8 814.2 747.5 817.0C749.2 819.8 750.8 822.5 752.5 826.0C754.2 829.5 755.8 834.0 757.5 838.0C759.2 842.0 760.8 846.5 762.5 850.0C764.2 853.5 765.8 856.4 767.5 859.0C769.2 861.6 770.8 864.3 772.5 865.5C774.2 866.7 775.8 865.9 777.5 866.0C779.2 866.1 780.8 865.7 782.5 866.0C784.2 866.3 785.8 867.2 787.5 868.0C789.2 868.8 790.8 869.8 792.5 871.0C794.2 872.2 796.1 873.6 798.0 875.0C799.9 876.4 802.3 879.2 804.0 879.5C805.7 879.8 806.6 878.2 808.0 877.0C809.4 875.8 810.9 874.7 812.5 872.5C814.1 870.3 815.8 866.9 817.5 864.0C819.2 861.1 820.8 857.8 822.5 855.0C824.2 852.2 825.8 849.8 827.5 847.5C829.2 845.2 830.7 843.1 832.5 841.0C834.3 838.9 836.4 836.8 838.5 835.0C840.6 833.2 842.2 831.8 845.0 830.0C847.8 828.2 851.7 825.8 855.0 824.0C858.3 822.2 861.7 820.6 865.0 819.0C868.3 817.4 871.7 815.8 875.0 814.5C878.3 813.2 881.5 811.9 885.0 811.0C888.5 810.1 892.2 809.6 896.0 809.0C899.8 808.4 903.7 807.9 907.5 807.5C911.3 807.1 915.2 806.8 919.0 806.5C922.8 806.2 925.7 805.9 930.0 806.0C934.3 806.1 940.4 806.6 945.0 807.0C949.6 807.4 953.3 807.9 957.5 808.5C961.7 809.1 965.2 809.9 970.0 810.5C974.8 811.1 980.6 811.6 986.0 812.0C991.4 812.4 997.2 812.4 1002.5 813.0C1007.8 813.6 1012.3 814.7 1017.5 815.5C1022.7 816.3 1029.8 817.2 1033.4 818.0C1037.0 818.8 1037.2 819.2 1039.1 820.0C1040.9 820.8 1042.9 821.4 1044.7 822.5C1046.4 823.6 1048.0 825.2 1049.5 826.5C1051.0 827.8 1051.3 829.0 1053.5 830.0C1055.7 831.0 1059.3 831.8 1062.5 832.5C1065.7 833.2 1069.2 833.7 1072.5 834.0C1075.8 834.3 1079.2 834.5 1082.5 834.5C1085.8 834.5 1089.2 834.3 1092.5 834.0C1095.8 833.7 1099.2 833.2 1102.5 832.5C1105.8 831.8 1109.3 830.8 1112.5 830.0C1115.7 829.2 1118.6 828.3 1121.5 827.5C1124.4 826.7 1128.2 825.1 1130.0 825.0C1131.8 824.9 1131.7 826.2 1132.5 827.0C1133.3 827.8 1134.0 828.2 1135.0 830.0C1136.0 831.8 1137.4 835.6 1138.5 838.0C1139.6 840.4 1140.1 843.6 1141.5 844.5C1142.9 845.4 1145.2 843.8 1147.0 843.5C1148.8 843.2 1150.3 842.5 1152.5 843.0C1154.7 843.5 1157.5 845.4 1160.0 846.5C1162.5 847.6 1165.2 850.1 1167.5 849.5C1169.8 848.9 1171.4 845.2 1173.5 843.0C1175.6 840.8 1178.1 838.2 1180.0 836.0C1181.9 833.8 1183.3 832.0 1185.0 830.0C1186.7 828.0 1188.2 825.8 1190.0 824.0C1191.8 822.2 1193.9 820.8 1196.0 819.5C1198.1 818.2 1200.2 817.1 1202.5 816.0C1204.8 814.9 1207.5 814.1 1210.0 813.0C1212.5 811.9 1214.5 810.6 1217.5 809.5C1220.5 808.4 1224.2 807.3 1228.0 806.5C1231.8 805.7 1235.3 805.2 1240.0 804.5C1244.7 803.8 1250.6 802.8 1256.0 802.0C1261.4 801.2 1266.2 800.6 1272.5 800.0C1278.8 799.4 1286.9 798.8 1294.0 798.5C1301.1 798.2 1308.3 798.1 1315.0 798.0C1321.7 797.9 1327.8 798.0 1334.0 798.0C1340.2 798.0 1346.3 797.8 1352.5 798.0C1358.7 798.2 1364.8 799.1 1371.0 799.5C1377.2 799.9 1382.7 800.4 1390.0 800.5C1397.3 800.6 1406.7 800.1 1415.0 800.0C1423.3 799.9 1431.7 800.0 1440.0 800.0C1448.3 800.0 1456.7 800.0 1465.0 800.0C1473.3 800.0 1483.8 799.8 1490.0 800.0C1496.2 800.2 1498.3 800.7 1502.5 801.0C1506.7 801.3 1510.8 801.6 1515.0 802.0C1519.2 802.4 1523.3 802.8 1527.5 803.5C1531.7 804.2 1536.4 804.9 1540.0 806.0C1543.6 807.1 1546.1 808.6 1549.0 810.0C1551.9 811.4 1554.7 813.3 1557.5 814.5C1560.3 815.7 1563.1 816.2 1566.0 817.0C1568.9 817.8 1571.9 818.6 1575.0 819.0C1578.1 819.4 1581.3 819.4 1584.5 819.5C1587.7 819.6 1591.5 820.2 1594.0 819.5C1596.5 818.8 1597.7 816.6 1599.5 815.0C1601.3 813.4 1602.8 811.8 1605.0 810.0C1607.2 808.2 1610.0 806.2 1612.5 804.5C1615.0 802.8 1618.0 801.0 1620.0 800.0C1622.0 799.0 1623.0 798.9 1624.5 798.5C1626.0 798.1 1627.6 797.6 1629.0 797.5C1630.4 797.4 1631.6 797.6 1633.0 798.0C1634.4 798.4 1636.0 798.9 1637.5 800.0C1639.0 801.1 1640.6 802.7 1642.0 804.5C1643.4 806.3 1644.7 808.4 1646.0 811.0C1647.3 813.6 1648.7 816.8 1650.0 820.0C1651.3 823.2 1652.8 826.2 1654.0 830.0C1655.2 833.8 1656.0 838.4 1657.0 843.0C1658.0 847.6 1659.1 852.5 1660.0 857.5C1660.9 862.5 1661.7 867.6 1662.5 873.0C1663.3 878.4 1664.2 884.7 1665.0 890.0C1665.8 895.3 1666.3 900.0 1667.0 905.0C1667.7 910.0 1668.4 915.5 1669.0 920.0C1669.6 924.5 1670.0 928.0 1670.5 932.0C1671.0 936.0 1671.5 940.4 1672.0 944.0C1672.5 947.6 1673.0 951.3 1673.5 953.7C1674.0 956.1 1674.5 957.4 1675.0 958.5C1675.5 959.6 1676.0 960.9 1676.5 960.6C1677.0 960.4 1677.5 958.6 1678.0 957.0C1678.5 955.4 1678.8 953.2 1679.5 951.0C1680.2 948.8 1681.1 945.0 1682.0 943.5C1682.9 942.0 1683.8 941.7 1684.7 942.0C1685.6 942.3 1686.6 943.0 1687.4 945.5C1688.2 948.0 1688.8 952.4 1689.5 957.0C1690.2 961.6 1690.8 967.3 1691.6 973.0C1692.4 978.7 1693.4 985.1 1694.3 991.0C1695.2 996.9 1696.1 1002.6 1697.0 1008.6C1697.9 1014.6 1698.9 1021.1 1699.8 1027.0C1700.7 1032.9 1701.6 1039.3 1702.5 1044.0C1703.4 1048.7 1704.4 1052.0 1705.3 1055.0C1706.2 1058.0 1707.2 1060.6 1708.0 1062.0C1708.8 1063.4 1709.3 1063.2 1710.0 1063.5C1710.7 1063.8 1711.2 1064.2 1712.0 1063.5C1712.8 1062.8 1714.1 1061.3 1715.0 1059.0C1715.9 1056.7 1716.7 1054.5 1717.6 1049.8C1718.5 1045.1 1719.4 1037.9 1720.3 1031.0C1721.2 1024.1 1722.1 1015.8 1723.0 1008.6C1723.9 1001.4 1724.9 994.9 1725.8 988.0C1726.7 981.1 1727.8 973.7 1728.6 967.4C1729.4 961.1 1729.8 956.2 1730.5 950.0C1731.2 943.8 1731.7 939.2 1732.5 930.0C1733.3 920.8 1734.5 903.3 1735.5 895.0C1736.5 886.7 1737.3 884.5 1738.2 880.0C1739.1 875.5 1740.1 871.4 1741.0 867.7C1741.9 864.0 1742.8 860.8 1743.7 858.0C1744.6 855.2 1745.5 852.7 1746.4 851.0C1747.3 849.3 1748.3 848.7 1749.2 848.0C1750.1 847.3 1751.1 846.8 1752.0 847.0C1752.9 847.2 1753.8 848.3 1754.7 849.5C1755.6 850.7 1756.3 851.4 1757.4 854.0C1758.5 856.6 1760.1 860.9 1761.5 865.0C1762.9 869.1 1764.2 874.2 1765.7 878.7C1767.2 883.2 1768.9 887.5 1770.4 892.0C1772.0 896.5 1773.7 901.0 1775.0 906.0C1776.3 911.0 1777.3 916.5 1778.5 922.0C1779.7 927.5 1780.8 933.0 1782.0 939.0C1783.2 945.0 1784.5 953.0 1785.5 958.0C1786.5 963.0 1787.2 965.6 1788.0 969.0C1788.8 972.4 1789.7 976.0 1790.4 978.4C1791.2 980.8 1791.8 982.1 1792.5 983.5C1793.2 984.9 1793.2 985.8 1794.5 986.7C1795.8 987.6 1798.2 988.3 1800.0 989.0C1801.8 989.7 1803.4 989.8 1805.4 990.8C1807.4 991.8 1809.7 993.4 1812.0 995.0C1814.3 996.6 1816.2 998.5 1819.0 1000.4C1821.8 1002.3 1825.8 1004.5 1829.0 1006.5C1832.2 1008.5 1835.1 1010.9 1838.4 1012.7C1841.7 1014.5 1845.4 1016.0 1849.0 1017.5C1852.6 1019.0 1856.8 1020.2 1860.0 1022.0C1863.2 1023.8 1865.7 1025.9 1868.5 1028.0C1871.3 1030.1 1874.3 1032.5 1876.8 1034.7C1879.3 1037.0 1881.4 1039.2 1883.7 1041.5C1886.0 1043.8 1888.5 1046.2 1890.5 1048.4C1892.5 1050.6 1894.2 1052.5 1896.0 1054.5C1897.8 1056.5 1899.8 1058.8 1901.5 1060.7C1903.2 1062.6 1904.4 1064.5 1906.0 1066.0C1907.6 1067.5 1909.2 1069.2 1911.0 1070.0C1912.8 1070.8 1914.9 1070.8 1917.0 1071.0C1919.1 1071.2 1921.4 1071.2 1923.4 1071.0C1925.4 1070.8 1927.2 1070.3 1929.0 1069.5C1930.8 1068.7 1932.6 1067.4 1934.4 1066.0C1936.2 1064.6 1938.2 1062.8 1940.0 1061.0C1941.8 1059.2 1943.6 1057.2 1945.4 1055.0C1947.2 1052.8 1949.2 1050.2 1951.0 1047.5C1952.8 1044.8 1954.6 1042.2 1956.4 1038.8C1958.2 1035.4 1960.2 1031.1 1962.0 1027.0C1963.8 1022.9 1965.6 1018.4 1967.4 1014.0C1969.2 1009.6 1970.9 1005.0 1972.7 1000.5C1974.5 996.0 1976.2 991.3 1978.0 986.7C1979.8 982.1 1981.7 977.6 1983.5 973.0C1985.3 968.4 1987.4 963.0 1989.0 959.0C1990.6 955.0 1991.6 952.5 1993.0 949.0C1994.4 945.5 1995.8 942.4 1997.5 938.0C1999.2 933.6 2000.9 926.9 2003.0 922.6C2005.1 918.3 2007.7 915.3 2010.0 912.0C2012.3 908.7 2014.7 905.8 2016.7 903.0C2018.7 900.2 2020.2 897.7 2022.0 895.0C2023.8 892.3 2026.0 889.8 2027.7 887.0C2029.4 884.2 2030.6 881.2 2032.0 878.5C2033.4 875.8 2034.8 872.5 2036.0 870.5C2037.2 868.5 2038.4 867.4 2039.5 866.5C2040.6 865.6 2041.8 864.8 2042.8 865.0C2043.8 865.2 2044.6 866.2 2045.5 867.5C2046.4 868.8 2047.1 870.2 2048.0 873.0C2048.9 875.8 2050.0 879.8 2051.0 884.0C2052.0 888.2 2052.9 892.8 2053.8 898.0C2054.7 903.2 2055.5 909.1 2056.4 915.0C2057.3 920.9 2058.2 927.1 2059.0 933.6C2059.8 940.1 2060.5 947.0 2061.2 954.0C2061.9 961.0 2062.7 968.7 2063.4 975.7C2064.1 982.7 2064.8 989.1 2065.5 996.0C2066.2 1002.9 2066.8 1010.0 2067.5 1016.8C2068.2 1023.6 2068.8 1030.1 2069.5 1037.0C2070.2 1043.9 2070.8 1050.2 2071.6 1058.0C2072.4 1065.8 2073.4 1075.3 2074.3 1084.0C2075.2 1092.7 2076.1 1101.5 2077.0 1110.0C2077.9 1118.5 2078.9 1126.8 2079.8 1135.0C2080.7 1143.2 2081.7 1152.3 2082.6 1159.5C2083.5 1166.7 2084.4 1172.1 2085.3 1178.0C2086.2 1183.9 2087.2 1190.2 2088.0 1195.0C2088.8 1199.8 2089.3 1203.3 2090.0 1207.0C2090.7 1210.7 2091.4 1215.1 2092.0 1217.0C2092.6 1218.9 2093.0 1218.6 2093.6 1218.5C2094.2 1218.4 2095.0 1217.6 2095.7 1216.5C2096.4 1215.4 2096.9 1214.8 2097.7 1211.7C2098.5 1208.6 2099.4 1203.0 2100.3 1198.0C2101.2 1193.0 2102.1 1188.3 2103.0 1181.5C2103.9 1174.7 2104.9 1165.2 2105.8 1157.0C2106.8 1148.8 2107.8 1140.7 2108.7 1132.0C2109.6 1123.3 2110.4 1114.2 2111.3 1105.0C2112.2 1095.8 2113.1 1086.2 2114.0 1077.0C2114.9 1067.8 2115.9 1059.2 2116.8 1050.0C2117.8 1040.8 2118.8 1030.5 2119.7 1022.0C2120.6 1013.5 2121.4 1006.7 2122.3 999.0C2123.2 991.3 2124.1 982.7 2125.0 975.7C2125.9 968.7 2126.9 963.1 2127.8 957.0C2128.7 950.9 2129.6 946.7 2130.6 939.0C2131.6 931.3 2132.8 920.2 2134.0 911.0C2135.2 901.8 2136.4 893.2 2137.5 884.0C2138.6 874.8 2139.6 865.2 2140.7 856.0C2141.8 846.8 2142.9 837.3 2144.0 829.0C2145.1 820.7 2146.3 813.3 2147.5 806.0C2148.7 798.7 2149.9 791.3 2151.0 785.0C2152.1 778.7 2153.1 773.4 2154.0 768.0C2154.9 762.6 2155.9 756.4 2156.7 752.5C2157.5 748.6 2158.0 746.8 2158.7 744.5C2159.4 742.2 2160.1 740.0 2160.8 738.7C2161.5 737.4 2162.3 737.2 2163.0 736.8C2163.7 736.4 2164.3 736.0 2165.0 736.5C2165.7 737.0 2166.3 738.2 2167.0 740.0C2167.7 741.8 2168.3 743.3 2169.0 747.0C2169.7 750.7 2170.3 756.5 2171.0 762.0C2171.7 767.5 2172.3 773.3 2173.0 780.0C2173.7 786.7 2174.5 794.7 2175.2 802.0C2175.9 809.3 2176.6 817.8 2177.3 823.8C2178.0 829.8 2178.6 834.1 2179.3 838.0C2180.0 841.9 2180.7 845.6 2181.4 847.0C2182.1 848.4 2182.8 847.2 2183.5 846.5C2184.2 845.8 2184.8 844.9 2185.5 843.0C2186.2 841.1 2186.8 838.2 2187.5 835.0C2188.2 831.8 2188.9 828.6 2189.6 823.8C2190.3 819.0 2191.0 812.0 2191.7 806.0C2192.4 800.0 2193.1 793.3 2193.8 788.0C2194.5 782.7 2195.3 778.1 2196.0 774.0C2196.7 769.9 2197.3 766.5 2198.0 763.4C2198.7 760.3 2199.3 757.8 2200.0 755.5C2200.7 753.2 2201.1 751.2 2202.0 749.7C2202.9 748.2 2204.3 747.5 2205.5 746.5C2206.7 745.5 2207.8 745.1 2209.0 744.0C2210.2 742.9 2211.2 741.5 2212.5 740.0C2213.8 738.5 2216.2 735.8 2217.0 735.0"/>
<path stroke="#8A8A00" d="M153.7 538.0C155.6 537.9 160.6 537.6 165.0 537.5C169.4 537.4 175.8 537.5 180.0 537.5C184.2 537.5 188.0 537.6 190.4 537.2C192.8 536.8 193.2 535.8 194.5 535.0C195.8 534.2 195.1 533.1 198.5 532.6C201.9 532.1 209.6 532.4 215.0 532.3C220.4 532.2 223.8 532.0 231.0 531.8C238.2 531.6 249.0 531.4 258.0 531.2C267.0 531.0 273.6 530.9 284.8 530.7C296.0 530.5 311.5 530.2 325.0 530.0C338.5 529.8 356.5 529.3 365.7 529.3C374.9 529.3 375.5 529.7 380.0 530.0C384.5 530.3 389.4 530.8 392.6 531.2C395.8 531.6 396.8 532.1 399.0 532.3C401.2 532.5 403.7 532.8 406.0 532.6C408.3 532.4 410.7 531.5 413.0 531.0C415.3 530.5 415.1 530.1 419.6 529.9C424.1 529.7 433.3 529.9 440.0 530.0C446.7 530.1 453.3 530.1 460.0 530.4C466.7 530.7 473.2 531.4 480.0 532.0C486.8 532.6 492.7 533.4 500.5 533.9C508.3 534.4 518.0 534.8 527.0 535.3C536.0 535.8 545.4 536.1 554.4 536.6C563.4 537.1 572.0 537.5 581.0 538.0C590.0 538.5 599.3 538.8 608.3 539.3C617.3 539.8 626.0 540.2 635.0 540.7C644.0 541.2 655.9 541.6 662.2 542.0C668.5 542.4 669.4 542.8 673.0 543.2C676.6 543.7 680.6 544.0 683.8 544.7C687.0 545.4 689.3 546.4 692.0 547.5C694.7 548.6 697.8 550.1 700.0 551.4C702.2 552.6 703.4 553.6 705.0 555.0C706.6 556.4 708.0 558.1 709.4 559.5C710.8 560.9 711.7 562.0 713.5 563.5C715.3 565.0 717.7 566.8 720.0 568.5C722.3 570.2 725.0 571.7 727.5 574.0C730.0 576.3 732.2 580.2 735.0 582.5C737.8 584.8 741.6 585.4 744.0 587.5C746.4 589.6 747.7 592.2 749.5 595.0C751.3 597.8 753.2 600.6 755.0 604.0C756.8 607.4 758.7 611.6 760.5 615.5C762.3 619.4 764.6 624.8 766.0 627.5C767.4 630.2 767.9 630.8 769.0 632.0C770.1 633.2 771.1 634.2 772.5 635.0C773.9 635.8 775.8 636.0 777.5 636.5C779.2 637.0 780.6 637.1 782.5 638.0C784.4 638.9 786.9 640.7 789.0 642.0C791.1 643.3 793.2 644.8 795.0 646.0C796.8 647.2 798.3 648.5 800.0 649.5C801.7 650.5 803.4 651.9 805.0 652.0C806.6 652.1 808.0 651.0 809.5 650.0C811.0 649.0 812.3 648.0 814.0 646.0C815.7 644.0 817.7 640.7 819.5 638.0C821.3 635.3 823.2 632.3 825.0 630.0C826.8 627.7 828.3 625.8 830.0 624.0C831.7 622.2 833.3 620.4 835.0 619.0C836.7 617.6 838.3 616.6 840.0 615.5C841.7 614.4 842.8 613.3 845.0 612.5C847.2 611.7 850.6 611.1 853.5 610.5C856.4 609.9 859.6 609.3 862.5 609.0C865.4 608.7 868.1 608.7 871.0 608.5C873.9 608.3 877.0 608.4 880.0 608.0C883.0 607.6 886.1 606.7 889.0 606.0C891.9 605.3 895.2 604.8 897.5 604.0C899.8 603.2 900.8 602.3 902.5 601.5C904.2 600.7 905.6 599.5 907.5 599.0C909.4 598.5 911.9 598.7 914.0 598.5C916.1 598.3 916.9 598.5 920.0 598.0C923.1 597.5 928.3 596.0 932.5 595.5C936.7 595.0 938.8 595.4 945.0 595.0C951.2 594.6 960.0 593.7 970.0 593.0C980.0 592.3 994.4 591.0 1005.0 591.0C1015.6 591.0 1026.8 592.3 1033.4 593.0C1040.1 593.7 1042.0 594.0 1044.7 595.0C1047.4 596.0 1048.0 597.8 1049.5 599.0C1051.0 600.2 1051.7 602.2 1053.5 602.5C1055.3 602.8 1058.2 601.1 1060.5 600.5C1062.8 599.9 1064.2 599.7 1067.5 599.0C1070.8 598.3 1075.8 597.2 1080.0 596.5C1084.2 595.8 1088.3 595.1 1092.5 594.5C1096.7 593.9 1100.8 593.4 1105.0 593.0C1109.2 592.6 1113.3 592.0 1117.5 592.0C1121.7 592.0 1127.5 592.3 1130.0 593.0C1132.5 593.7 1131.7 594.8 1132.5 596.0C1133.3 597.2 1134.0 598.0 1135.0 600.0C1136.0 602.0 1137.4 605.4 1138.5 608.0C1139.6 610.6 1140.2 614.1 1141.5 615.5C1142.8 616.9 1144.8 616.2 1146.5 616.5C1148.2 616.8 1149.3 616.5 1151.5 617.5C1153.7 618.5 1156.8 620.8 1159.5 622.5C1162.2 624.2 1165.2 627.4 1167.5 627.5C1169.8 627.6 1171.4 624.7 1173.5 623.0C1175.6 621.3 1178.1 619.2 1180.0 617.5C1181.9 615.8 1183.3 614.3 1185.0 613.0C1186.7 611.7 1189.0 610.0 1190.0 609.5C1191.0 609.0 1189.8 610.6 1190.8 610.0C1191.8 609.4 1194.1 607.2 1196.0 606.0C1197.9 604.8 1200.2 603.6 1202.5 602.5C1204.8 601.4 1207.5 600.4 1210.0 599.5C1212.5 598.6 1214.5 597.7 1217.5 597.0C1220.5 596.3 1224.2 596.0 1228.0 595.5C1231.8 595.0 1235.3 594.5 1240.0 594.0C1244.7 593.5 1250.6 593.0 1256.0 592.5C1261.4 592.0 1266.2 591.3 1272.5 591.0C1278.8 590.7 1286.9 590.6 1294.0 590.5C1301.1 590.4 1307.3 590.4 1315.0 590.5C1322.7 590.6 1331.7 590.8 1340.0 591.0C1348.3 591.2 1356.7 591.7 1365.0 592.0C1373.3 592.3 1381.7 592.7 1390.0 593.0C1398.3 593.3 1406.7 593.8 1415.0 594.0C1423.3 594.2 1431.7 594.0 1440.0 594.0C1448.3 594.0 1457.7 593.9 1465.0 594.0C1472.3 594.1 1477.8 594.3 1484.0 594.5C1490.2 594.7 1496.7 594.8 1502.5 595.0C1508.3 595.2 1513.6 595.5 1519.0 596.0C1524.4 596.5 1530.7 597.1 1535.0 598.0C1539.3 598.9 1541.7 600.2 1545.0 601.5C1548.3 602.8 1551.7 604.8 1555.0 606.0C1558.3 607.2 1561.7 607.8 1565.0 608.5C1568.3 609.2 1571.8 610.1 1575.0 610.5C1578.2 610.9 1581.1 610.9 1584.0 611.0C1586.9 611.1 1590.2 611.5 1592.5 611.0C1594.8 610.5 1595.8 609.0 1597.5 608.0C1599.2 607.0 1600.4 606.3 1602.5 605.0C1604.6 603.7 1607.5 601.7 1610.0 600.0C1612.5 598.3 1615.4 596.2 1617.5 595.0C1619.6 593.8 1620.8 593.5 1622.5 593.0C1624.2 592.5 1625.8 592.1 1627.5 592.0C1629.2 591.9 1630.8 592.1 1632.5 592.5C1634.2 592.9 1635.8 593.4 1637.5 594.5C1639.2 595.6 1640.8 597.2 1642.5 599.0C1644.2 600.8 1646.0 602.7 1647.5 605.0C1649.0 607.3 1650.2 610.1 1651.5 613.0C1652.8 615.9 1653.9 618.8 1655.0 622.5C1656.1 626.2 1657.0 630.4 1658.0 635.0C1659.0 639.6 1660.1 645.0 1661.0 650.0C1661.9 655.0 1662.7 660.0 1663.5 665.0C1664.3 670.0 1665.2 675.2 1666.0 680.0C1666.8 684.8 1667.3 689.4 1668.0 694.0C1668.7 698.6 1669.4 703.5 1670.0 707.5C1670.6 711.5 1671.0 714.7 1671.5 718.0C1672.0 721.3 1672.5 725.2 1673.0 727.5C1673.5 729.8 1673.9 730.9 1674.3 732.0C1674.7 733.1 1675.0 734.2 1675.5 734.0C1676.0 733.8 1676.8 732.3 1677.5 731.0C1678.2 729.7 1678.8 727.4 1679.5 726.0C1680.2 724.6 1681.2 723.3 1682.0 722.5C1682.8 721.7 1683.3 721.0 1684.0 721.0C1684.7 721.0 1685.4 721.4 1686.0 722.5C1686.6 723.6 1687.0 724.9 1687.5 727.5C1688.0 730.1 1688.7 734.2 1689.3 738.0C1689.9 741.8 1690.3 745.3 1691.0 750.0C1691.7 754.7 1692.7 760.6 1693.5 766.0C1694.3 771.4 1695.2 777.2 1696.0 782.5C1696.8 787.8 1697.7 793.0 1698.5 798.0C1699.3 803.0 1700.1 808.3 1701.0 812.5C1701.9 816.7 1703.1 819.9 1704.0 823.0C1704.9 826.1 1705.7 828.7 1706.6 831.0C1707.5 833.3 1708.6 835.7 1709.5 837.0C1710.4 838.3 1711.1 839.1 1712.0 838.9C1712.9 838.7 1714.1 837.6 1715.0 836.0C1715.9 834.4 1716.7 832.7 1717.6 829.0C1718.5 825.3 1719.6 819.5 1720.5 814.0C1721.4 808.5 1722.1 803.0 1723.0 796.0C1723.9 789.0 1725.1 780.2 1726.0 772.0C1726.9 763.8 1727.7 755.3 1728.6 747.0C1729.5 738.7 1730.4 730.2 1731.3 722.0C1732.2 713.8 1733.0 704.9 1734.0 697.6C1735.0 690.3 1736.1 683.9 1737.0 678.0C1737.9 672.1 1738.6 666.8 1739.6 662.0C1740.6 657.2 1741.9 652.7 1743.0 649.0C1744.1 645.3 1745.4 641.9 1746.4 640.0C1747.4 638.1 1748.3 638.0 1749.2 637.5C1750.1 637.0 1751.0 636.5 1752.0 636.7C1753.0 636.9 1754.4 637.5 1755.5 638.5C1756.6 639.5 1757.5 640.3 1758.8 642.7C1760.0 645.1 1761.6 649.4 1763.0 653.0C1764.4 656.6 1765.7 660.8 1767.0 664.6C1768.3 668.4 1769.7 671.9 1771.0 676.0C1772.3 680.1 1773.8 684.0 1775.0 689.0C1776.2 694.0 1777.3 700.0 1778.5 706.0C1779.7 712.0 1780.8 719.5 1782.0 725.0C1783.2 730.5 1784.3 734.4 1785.5 739.0C1786.7 743.6 1788.0 748.8 1789.0 752.5C1790.0 756.2 1790.9 758.8 1791.8 761.0C1792.7 763.2 1793.1 764.9 1794.5 766.0C1795.9 767.1 1798.2 767.1 1800.0 767.5C1801.8 767.9 1803.4 767.5 1805.4 768.4C1807.4 769.3 1809.7 771.3 1812.0 773.0C1814.3 774.7 1816.2 776.5 1819.0 778.5C1821.8 780.5 1825.8 782.8 1829.0 785.0C1832.2 787.2 1835.2 790.0 1838.4 792.0C1841.6 794.0 1844.8 795.3 1848.0 797.0C1851.2 798.7 1854.6 800.2 1857.6 802.0C1860.6 803.8 1863.3 805.7 1866.0 808.0C1868.7 810.3 1871.5 812.9 1874.0 815.6C1876.5 818.3 1878.7 821.0 1881.0 824.0C1883.3 827.0 1885.5 830.5 1887.8 833.4C1890.1 836.3 1892.3 839.0 1894.6 841.5C1896.9 844.0 1899.4 846.5 1901.5 848.5C1903.6 850.5 1905.2 852.1 1907.0 853.5C1908.8 854.9 1910.7 855.9 1912.5 856.8C1914.3 857.7 1916.2 858.5 1918.0 859.0C1919.8 859.5 1921.6 859.5 1923.4 859.5C1925.2 859.5 1927.2 859.2 1929.0 858.8C1930.8 858.3 1932.6 857.9 1934.4 856.8C1936.2 855.7 1938.2 853.8 1940.0 852.0C1941.8 850.2 1943.4 848.5 1945.4 845.8C1947.4 843.0 1949.7 839.2 1952.0 835.5C1954.3 831.8 1956.7 828.0 1959.0 823.8C1961.3 819.5 1963.7 814.6 1966.0 810.0C1968.3 805.4 1970.5 801.4 1972.8 796.4C1975.1 791.4 1977.4 785.5 1979.7 780.0C1982.0 774.5 1984.3 768.9 1986.6 763.4C1988.9 757.9 1991.1 752.5 1993.3 747.0C1995.5 741.5 1998.0 735.2 2000.0 730.5C2002.0 725.8 2003.7 722.6 2005.5 719.0C2007.3 715.4 2009.2 711.8 2011.0 708.6C2012.8 705.4 2014.7 702.8 2016.5 700.0C2018.3 697.2 2020.2 695.2 2022.0 692.0C2023.8 688.8 2025.7 684.7 2027.5 681.0C2029.3 677.3 2031.5 672.8 2033.0 670.0C2034.5 667.2 2035.3 665.8 2036.5 664.0C2037.7 662.2 2039.1 660.0 2040.0 659.0C2040.9 658.0 2041.3 658.2 2042.0 658.0C2042.7 657.8 2043.2 657.3 2044.0 657.8C2044.8 658.3 2046.0 659.4 2047.0 661.0C2048.0 662.6 2048.8 664.1 2049.7 667.4C2050.6 670.7 2051.5 676.0 2052.4 681.0C2053.3 686.0 2054.2 691.9 2055.0 697.6C2055.8 703.3 2056.3 709.1 2057.0 715.0C2057.7 720.9 2058.3 726.7 2059.0 733.0C2059.7 739.3 2060.5 746.1 2061.2 753.0C2061.9 759.9 2062.6 766.4 2063.4 774.4C2064.2 782.4 2065.3 791.9 2066.2 801.0C2067.1 810.1 2068.1 820.2 2069.0 829.0C2069.9 837.8 2070.8 845.7 2071.7 854.0C2072.6 862.3 2073.5 870.7 2074.4 878.7C2075.3 886.7 2076.3 894.3 2077.2 902.0C2078.1 909.7 2079.1 917.7 2080.0 925.0C2080.9 932.3 2081.8 939.1 2082.7 946.0C2083.6 952.9 2084.6 960.8 2085.4 966.5C2086.2 972.2 2086.8 975.8 2087.5 980.0C2088.2 984.2 2088.9 989.1 2089.5 992.0C2090.1 994.9 2090.4 996.1 2090.8 997.5C2091.2 998.9 2091.5 1000.1 2092.0 1000.4C2092.5 1000.6 2093.3 999.9 2094.0 999.0C2094.7 998.1 2095.5 997.2 2096.3 995.0C2097.1 992.8 2098.1 989.2 2099.0 986.0C2099.9 982.8 2101.0 979.7 2101.8 975.7C2102.6 971.7 2103.3 966.6 2104.0 962.0C2104.7 957.4 2105.1 956.7 2106.0 948.0C2106.9 939.3 2108.3 922.9 2109.4 910.0C2110.5 897.1 2111.5 884.0 2112.8 870.5C2114.1 857.0 2115.6 842.8 2117.0 829.0C2118.4 815.2 2119.7 801.0 2121.0 788.0C2122.3 775.0 2123.7 763.3 2125.0 751.0C2126.3 738.7 2127.6 726.7 2129.0 714.0C2130.4 701.3 2131.8 687.8 2133.2 675.0C2134.6 662.2 2136.1 648.0 2137.5 637.0C2138.9 626.0 2140.2 618.2 2141.6 609.0C2143.0 599.8 2144.3 590.5 2145.7 582.0C2147.1 573.5 2148.6 565.7 2150.0 558.0C2151.4 550.3 2152.9 540.9 2154.0 535.7C2155.1 530.5 2155.9 529.5 2156.8 527.0C2157.7 524.5 2158.6 522.0 2159.5 520.6C2160.4 519.2 2161.4 519.0 2162.3 518.5C2163.2 518.0 2164.2 517.4 2165.0 517.8C2165.8 518.2 2166.3 519.5 2167.0 521.0C2167.7 522.5 2168.3 522.8 2169.0 527.0C2169.7 531.2 2170.3 539.1 2171.0 546.0C2171.7 552.9 2172.3 560.9 2173.0 568.6C2173.7 576.3 2174.5 584.3 2175.2 592.0C2175.9 599.7 2176.6 609.0 2177.3 615.0C2178.0 621.0 2178.6 624.8 2179.3 628.0C2180.0 631.2 2180.6 633.7 2181.4 634.5C2182.2 635.3 2183.3 633.9 2184.2 633.0C2185.1 632.1 2186.2 631.2 2187.0 629.0C2187.8 626.8 2188.3 623.2 2189.0 620.0C2189.7 616.8 2190.4 613.8 2191.0 609.8C2191.6 605.8 2191.9 600.6 2192.4 596.0C2192.9 591.4 2193.1 585.7 2193.8 582.0C2194.5 578.3 2195.5 576.2 2196.4 574.0C2197.3 571.8 2198.3 572.1 2199.0 568.6C2199.7 565.1 2200.0 558.0 2200.5 553.0C2201.0 548.0 2201.3 541.7 2202.0 538.4C2202.7 535.1 2203.8 534.6 2204.7 533.0C2205.6 531.4 2206.7 530.5 2207.5 528.8C2208.3 527.1 2208.8 524.8 2209.5 523.0C2210.2 521.2 2210.9 519.1 2211.6 517.8C2212.3 516.5 2212.8 515.8 2213.7 515.0C2214.6 514.2 2216.4 513.3 2217.0 513.0"/>
<path stroke="#FF8200" d="M153.7 196.0L155.2 191.0L156.7 185.9L161.3 181.2L167.9 179.1L175.0 179.6L181.1 181.7L187.8 183.1L191.0 189.0L193.7 192.5L194.5 187.6L195.9 182.8L196.7 177.9L197.6 173.2L199.8 168.9L204.0 172.0L209.0 175.0L212.4 180.4L218.0 183.4L220.5 176.7L225.2 172.7L230.0 171.5L235.0 171.0L241.6 174.9L248.9 177.7L252.4 175.1L256.6 173.9L262.1 169.1L266.9 169.8L270.9 167.5L275.4 166.7L279.9 166.2L284.1 167.3L287.9 169.2L295.1 168.8L299.0 168.9L303.1 168.3L310.0 166.7L314.5 168.1L319.2 168.1L323.5 169.1L327.6 170.4L333.0 169.0L337.5 167.0L339.6 163.2L340.9 158.9L344.0 154.0L348.0 157.0L352.5 160.0L356.0 156.0L359.0 154.0L363.3 159.8L367.3 166.1L371.0 162.0L375.0 159.0L380.0 158.0L385.0 157.5L389.0 158.7L393.1 159.6L399.8 163.1L403.0 165.0L406.0 167.5L408.4 162.4L409.5 156.8L412.1 153.1L414.0 149.0L415.8 153.4L418.6 157.3L422.4 160.7L424.2 165.6L428.3 158.5L432.5 155.0L436.7 154.6L441.0 155.1L445.5 153.5L450.0 154.0L456.2 154.0L462.4 156.4L468.2 154.0L472.5 152.0L478.0 153.5L482.5 155.0L486.8 154.2L491.2 153.8L495.4 151.6L500.1 151.4L504.0 150.7L508.0 150.2L515.0 148.9L518.8 150.7L522.8 151.9L530.0 152.4L535.1 152.1L539.9 150.0L545.1 150.7L550.0 149.8L554.3 150.6L558.7 150.2L563.0 149.0L567.0 149.1L571.0 149.5L575.0 148.0L579.3 149.2L583.7 148.9L588.1 149.2L592.1 149.4L596.0 151.3L600.1 150.2L604.3 150.1L608.6 150.1L613.1 150.8L616.9 148.7L621.0 149.2L625.0 149.1L629.4 149.8L633.8 149.7L638.2 149.8L642.6 148.5L647.0 148.8L651.4 148.7L655.8 149.8L660.2 150.0L664.6 148.2L669.0 148.3L670.0 149.5L675.6 150.2L681.1 151.4L686.8 153.0L692.5 154.2L696.0 158.0L699.0 162.5L703.0 165.0L707.0 167.5L709.5 172.6L712.0 177.6L712.5 181.9L713.9 185.9L714.9 190.0L715.6 194.4L717.6 198.1L719.5 202.0L720.8 206.1L722.1 210.1L724.9 213.7L725.7 218.9L728.5 223.3L730.8 228.1L733.4 232.8L736.7 236.1L739.2 239.9L742.2 243.3L743.8 247.7L745.8 252.7L747.3 257.9L748.2 261.9L749.3 265.9L750.1 270.0L751.7 274.9L753.0 279.9L754.3 284.9L755.5 289.9L756.4 295.0L757.9 299.9L758.1 304.6L759.2 309.0L760.4 313.4L761.2 318.0L762.1 322.9L763.1 327.7L764.3 332.6L764.7 337.6L765.9 343.3L767.5 349.0L768.3 353.0L769.5 356.9L770.3 360.9L772.8 366.9L775.0 370.0L778.0 367.0L781.0 365.0L784.0 365.0L787.5 366.0L791.0 370.0L794.0 372.5L797.0 370.0L800.0 367.0L803.0 366.0L806.0 366.0L808.5 364.0L811.0 360.0L812.3 354.9L814.2 350.1L814.9 345.8L816.0 341.6L817.8 337.6L818.7 333.7L819.6 329.8L821.0 326.0L822.1 320.4L824.0 315.0L825.7 310.4L826.9 305.7L828.1 301.0L829.0 296.3L830.7 291.9L831.8 287.3L835.2 284.3L836.9 280.5L839.5 277.3L841.7 272.0L844.5 267.2L848.5 264.2L851.8 260.7L854.8 257.6L858.0 254.5L863.0 249.5L867.9 244.9L872.5 241.5L877.5 239.0L882.6 234.5L889.0 231.0L895.0 230.2L900.9 229.0L905.0 226.0L908.2 220.4L912.5 222.5L916.0 224.0L920.0 224.0L924.0 224.0L927.5 221.0L931.0 218.0L936.0 220.0L941.0 222.5L944.0 220.0L947.5 218.0L951.0 219.5L955.0 221.0L960.9 219.5L967.5 219.0L971.0 222.0L974.0 224.0L979.5 224.0L985.0 224.5L990.0 226.0L995.0 227.5L1000.0 227.5L1004.0 227.5L1007.5 229.0L1011.0 231.0L1017.3 233.9L1023.6 236.9L1027.0 235.5L1030.0 235.0L1035.0 237.0L1040.0 239.0L1045.1 242.4L1049.4 246.8L1057.6 246.6L1065.1 246.0L1072.4 242.7L1079.8 240.4L1085.8 237.9L1092.3 235.4L1097.5 233.5L1102.5 231.0L1106.0 230.0L1110.0 229.0L1115.0 226.5L1120.0 224.0L1125.0 221.5L1130.0 219.5L1132.0 221.5L1134.0 224.0L1136.0 227.0L1137.5 230.0L1141.0 230.5L1145.0 231.0L1147.5 235.0L1150.0 240.0L1152.5 243.0L1155.0 245.0L1157.5 242.0L1160.0 237.5L1160.9 233.0L1163.3 229.1L1165.3 224.8L1166.7 220.2L1168.5 215.0L1171.0 210.0L1175.5 206.0L1180.0 202.5L1184.5 200.0L1189.0 197.5L1190.0 197.5L1193.9 196.1L1197.8 194.6L1200.9 191.7L1205.1 191.3L1211.3 189.3L1217.7 186.6L1223.9 188.0L1230.0 189.0L1234.2 186.4L1239.3 185.6L1243.1 182.7L1247.8 181.6L1252.0 180.7L1255.9 178.3L1260.4 177.0L1265.3 176.9L1269.2 175.8L1273.2 173.9L1277.4 173.2L1281.6 172.7L1285.9 173.9L1290.1 173.2L1294.8 170.5L1300.2 170.7L1305.3 169.8L1310.1 167.8L1315.0 167.2L1320.0 167.6L1325.0 166.7L1330.0 166.4L1334.0 165.0L1337.5 163.0L1343.3 163.5L1349.0 162.3L1354.5 161.6L1360.1 162.0L1364.2 160.5L1368.4 161.1L1372.6 160.7L1376.6 159.0L1380.8 158.8L1385.0 158.5L1389.4 157.9L1394.0 158.2L1398.2 157.2L1402.5 157.3L1406.0 159.0L1410.0 161.0L1415.1 157.3L1421.4 155.8L1424.0 158.0L1427.5 161.0L1432.3 157.2L1437.5 154.5L1442.5 155.2L1447.5 156.2L1452.4 157.4L1457.5 156.8L1465.2 156.4L1472.5 154.0L1480.0 151.6L1487.5 149.0L1491.0 151.0L1494.0 152.5L1499.0 150.5L1504.0 149.0L1507.5 152.0L1511.0 155.0L1516.9 153.4L1522.5 154.0L1527.0 152.5L1531.0 151.0L1538.0 151.9L1545.0 151.8L1551.5 155.1L1557.2 160.6L1561.0 158.0L1565.0 156.0L1572.6 156.8L1580.0 158.9L1584.5 159.7L1589.0 159.6L1593.3 159.4L1597.5 160.0L1601.0 162.5L1605.0 165.0L1609.0 169.0L1612.5 172.5L1618.1 167.1L1624.4 163.0L1628.0 165.0L1632.5 167.5L1636.0 170.5L1639.0 174.0L1641.8 178.7L1642.9 184.0L1645.8 189.3L1648.0 194.8L1648.5 199.7L1649.8 204.3L1651.0 209.0L1651.8 213.0L1652.7 217.1L1654.0 221.0L1654.9 225.0L1655.6 229.5L1656.2 234.0L1656.7 238.5L1657.5 243.0L1658.1 247.9L1658.8 252.7L1659.0 257.7L1659.8 262.5L1660.2 267.2L1660.7 271.8L1661.7 276.4L1662.0 281.0L1662.2 285.8L1662.7 290.5L1663.8 295.2L1664.3 300.0L1664.3 304.5L1664.8 309.0L1664.9 313.5L1665.3 318.0L1665.1 322.9L1665.3 327.8L1665.4 332.6L1666.3 337.5L1666.2 342.1L1666.6 346.8L1667.4 351.4L1667.2 356.0L1667.5 360.8L1668.5 365.5L1668.3 370.3L1669.1 375.0L1669.1 379.5L1668.9 384.0L1669.1 388.5L1669.8 393.0L1669.7 397.9L1669.7 402.8L1670.0 407.6L1670.2 412.5L1670.5 417.1L1670.6 421.8L1671.5 426.3L1671.5 431.0L1671.8 435.7L1672.4 440.5L1672.4 445.2L1672.4 450.0L1672.7 454.0L1673.3 458.0L1672.9 462.0L1673.3 466.0L1673.4 470.1L1674.3 474.2L1674.4 478.4L1674.9 482.5L1674.7 487.8L1675.5 493.0L1675.9 497.7L1676.1 502.5L1678.3 499.1L1679.7 495.3L1682.0 491.0L1684.0 494.0L1686.5 499.8L1686.8 504.0L1686.7 508.0L1687.4 512.0L1687.8 516.4L1688.8 520.6L1689.3 525.0L1689.4 529.0L1690.1 533.0L1690.8 537.0L1690.7 541.0L1691.6 545.7L1692.1 550.4L1693.3 555.0L1693.1 559.5L1694.2 564.0L1694.0 568.5L1694.7 573.0L1695.2 577.5L1695.5 582.0L1695.7 586.7L1696.6 591.2L1697.2 595.9L1697.4 600.5L1698.1 605.1L1698.7 609.8L1699.0 614.0L1699.4 618.2L1699.7 622.4L1699.9 626.6L1700.3 630.8L1700.3 635.0L1701.0 639.0L1701.2 643.0L1701.7 647.0L1702.0 651.0L1702.5 655.0L1702.7 659.0L1703.5 663.6L1703.7 668.4L1704.5 673.0L1705.8 678.5L1706.6 684.0L1708.7 688.0L1710.8 689.4L1714.4 684.4L1714.5 679.7L1716.2 675.7L1716.5 670.9L1717.2 666.2L1718.1 661.5L1718.3 656.7L1719.0 652.0L1719.5 647.9L1720.1 643.9L1720.0 639.8L1720.8 635.7L1721.1 631.7L1721.4 627.6L1721.6 623.5L1721.9 619.3L1721.9 615.1L1722.3 610.9L1722.5 606.7L1723.3 602.6L1723.2 598.4L1723.5 594.2L1723.7 590.0L1724.5 585.6L1724.8 581.3L1724.9 576.9L1724.8 572.5L1725.1 568.1L1725.3 563.7L1725.7 559.4L1725.7 555.0L1726.2 550.6L1726.3 546.2L1727.1 541.9L1727.4 537.5L1727.3 533.1L1727.3 528.7L1728.1 524.4L1727.9 520.0L1728.1 515.9L1728.0 511.8L1728.5 507.7L1728.7 503.6L1728.9 499.5L1728.9 495.4L1729.3 491.4L1729.1 487.3L1729.5 483.2L1729.5 479.1L1729.9 475.0L1730.0 471.0L1730.3 467.0L1730.8 463.0L1731.0 459.0L1731.6 455.0L1731.9 451.0L1732.4 447.0L1732.6 443.0L1733.0 438.7L1733.5 434.3L1733.5 429.9L1733.8 425.6L1734.7 421.2L1734.4 416.8L1735.2 412.5L1735.5 408.4L1735.5 404.3L1736.5 400.3L1737.0 396.2L1737.2 392.1L1737.7 388.0L1738.2 383.4L1738.2 378.8L1739.0 374.2L1739.5 369.6L1740.3 365.0L1741.1 361.0L1741.9 357.1L1742.6 353.0L1744.0 348.6L1745.1 344.0L1747.5 339.0L1750.0 336.0L1753.0 339.0L1756.0 344.0L1756.9 348.7L1758.2 353.3L1759.4 357.9L1760.2 362.2L1760.9 366.5L1761.9 370.7L1762.2 375.1L1763.3 379.8L1764.2 384.5L1765.0 389.3L1765.9 394.0L1766.8 398.6L1767.9 403.2L1768.0 407.9L1768.8 412.5L1769.7 417.1L1770.5 421.8L1771.1 426.4L1772.3 430.9L1772.6 435.8L1773.7 440.5L1774.6 445.2L1775.2 450.0L1775.4 454.0L1776.4 458.0L1776.6 462.0L1777.0 466.1L1778.0 470.0L1778.7 474.6L1779.2 479.2L1779.7 483.8L1780.2 488.4L1780.9 493.0L1781.5 497.2L1782.5 501.2L1783.0 505.4L1783.5 509.5L1783.7 513.7L1784.6 517.8L1784.9 522.0L1786.2 526.7L1787.1 531.4L1787.8 536.2L1788.4 541.0L1789.4 545.7L1790.5 550.4L1791.9 555.0L1793.0 559.8L1794.4 564.5L1795.7 569.2L1797.3 573.9L1798.6 578.4L1802.2 581.7L1803.1 586.5L1805.5 590.3L1809.6 593.0L1811.1 597.4L1814.0 601.7L1817.2 605.7L1821.4 608.7L1825.0 612.2L1828.5 616.3L1830.7 621.6L1835.5 625.1L1838.3 630.1L1842.0 632.0L1845.0 633.0L1847.0 638.0L1849.0 642.7L1853.7 644.7L1857.5 648.0L1861.1 651.7L1866.3 653.0L1869.4 660.4L1872.0 663.5L1873.3 667.4L1876.4 670.3L1879.9 672.6L1881.6 676.9L1885.0 679.7L1889.0 686.6L1889.6 690.8L1890.5 694.8L1892.6 698.3L1894.9 701.8L1899.4 708.1L1901.2 712.6L1903.4 716.8L1904.3 721.3L1908.0 724.5L1910.5 726.5L1914.0 727.8L1915.9 731.7L1918.1 735.4L1921.8 738.5L1922.6 743.4L1926.7 746.5L1930.0 749.0L1933.5 749.5L1937.0 749.0L1942.3 745.4L1946.8 741.5L1951.0 744.0L1955.0 745.6L1958.0 745.5L1960.5 744.0L1962.3 738.1L1963.0 733.0L1966.0 730.0L1968.7 727.8L1969.9 723.7L1971.7 719.9L1973.6 716.2L1976.6 713.2L1977.8 705.0L1979.6 697.6L1980.7 692.3L1981.6 687.0L1982.5 681.2L1983.5 675.5L1985.4 670.9L1986.3 666.0L1988.1 661.3L1988.8 656.4L1989.6 651.7L1990.5 647.0L1991.0 642.0L1991.9 637.0L1994.7 632.3L1996.3 627.3L1997.9 622.7L1999.3 618.1L2000.2 613.1L2001.1 608.1L2001.7 603.0L2002.8 598.0L2003.2 592.8L2004.6 587.8L2005.9 583.4L2008.2 579.2L2011.3 572.8L2014.5 570.5L2018.0 568.6L2020.0 564.0L2022.0 559.0L2025.0 555.0L2027.7 552.0L2030.1 545.8L2033.0 541.0L2033.8 536.6L2037.4 533.4L2039.3 525.6L2044.0 531.0L2046.3 534.5L2048.4 538.2L2048.6 543.0L2049.1 547.5L2050.4 552.0L2050.6 556.2L2051.5 560.3L2051.8 564.5L2052.5 568.6L2053.2 573.4L2053.7 578.3L2054.2 583.1L2054.2 588.0L2054.9 592.4L2055.5 596.7L2055.4 601.1L2055.7 605.5L2056.5 609.8L2057.2 614.0L2057.5 618.3L2058.0 622.5L2058.2 626.7L2058.8 631.0L2059.1 635.5L2059.5 640.1L2059.7 644.6L2059.9 649.2L2060.4 653.7L2061.0 658.1L2061.4 662.5L2061.6 666.9L2062.1 671.2L2062.5 675.6L2063.0 680.0L2063.2 684.3L2063.0 688.6L2064.0 692.9L2064.1 697.2L2064.4 701.5L2064.5 705.8L2065.4 710.3L2065.7 714.9L2066.1 719.4L2066.3 723.9L2066.7 728.5L2066.7 733.0L2067.1 737.6L2067.4 742.3L2068.4 746.8L2068.7 751.4L2068.5 756.1L2068.7 760.7L2069.4 764.8L2069.7 768.8L2070.6 772.8L2070.7 776.9L2070.7 781.0L2071.2 785.2L2071.5 789.4L2071.8 793.6L2072.8 797.7L2073.3 801.9L2073.7 805.9L2073.8 809.9L2074.1 814.0L2074.3 818.0L2074.8 822.0L2075.3 826.2L2075.6 830.4L2076.2 834.6L2076.6 838.8L2077.4 843.0L2077.4 847.2L2078.4 851.4L2078.5 855.6L2079.3 859.8L2080.1 864.0L2080.8 868.0L2081.2 872.0L2081.5 876.0L2081.9 880.0L2082.9 884.0L2083.6 888.2L2083.9 892.5L2084.6 896.8L2085.4 901.0L2086.2 905.0L2086.6 909.0L2087.7 912.9L2088.2 917.0L2088.5 921.2L2088.6 925.5L2089.4 929.8L2089.7 934.0L2090.5 938.0L2091.2 942.0L2091.7 946.0L2091.6 950.0L2094.0 945.0L2096.0 943.0L2096.8 947.0L2098.1 951.0L2099.4 954.9L2100.4 960.7L2101.7 966.5L2103.3 973.0L2104.5 977.5L2105.4 971.7L2106.7 966.0L2107.4 962.0L2107.4 958.0L2107.8 954.0L2108.6 950.0L2109.0 946.0L2109.5 942.0L2109.4 938.0L2110.2 934.0L2110.5 930.0L2110.7 926.0L2110.7 922.0L2111.7 918.0L2111.5 913.7L2112.2 909.5L2112.1 905.2L2112.4 901.0L2113.2 896.8L2113.2 892.5L2114.0 888.3L2114.0 884.0L2114.1 879.9L2114.5 875.8L2115.0 871.7L2115.5 867.6L2116.1 863.5L2115.8 859.4L2116.4 855.3L2116.6 851.2L2117.5 847.1L2117.2 843.0L2117.5 838.9L2117.9 834.8L2118.5 830.7L2119.2 826.6L2119.5 822.5L2119.8 818.4L2120.3 814.3L2120.6 810.1L2120.5 806.0L2120.8 801.9L2121.6 797.8L2121.7 793.7L2121.5 789.6L2122.2 785.5L2122.3 781.4L2122.6 777.4L2122.8 773.3L2123.0 769.2L2123.1 765.1L2123.6 761.0L2124.0 756.8L2124.7 752.7L2124.3 748.5L2125.2 744.4L2124.9 740.2L2125.3 736.1L2125.9 732.0L2126.2 727.8L2126.2 723.6L2126.2 719.5L2126.7 715.3L2126.8 711.2L2127.4 707.1L2127.1 702.9L2127.4 698.7L2128.0 694.6L2127.5 690.4L2128.0 686.3L2128.5 682.2L2128.7 678.0L2128.4 673.9L2128.6 669.8L2128.8 665.7L2129.7 661.6L2129.4 657.5L2130.0 653.4L2130.3 649.3L2130.1 645.2L2130.2 641.1L2131.0 637.0L2130.8 632.7L2130.6 628.5L2131.0 624.2L2130.8 619.9L2130.8 615.6L2130.7 611.4L2131.4 607.1L2131.6 602.8L2131.4 598.5L2131.8 594.3L2131.1 590.0L2131.4 585.9L2131.6 581.8L2132.1 577.8L2132.2 573.7L2131.8 569.6L2131.8 565.5L2132.0 561.4L2132.2 557.3L2132.6 553.3L2132.1 549.2L2132.6 545.1L2132.7 541.0L2133.1 536.8L2133.4 532.6L2133.6 528.4L2133.7 524.2L2134.1 520.0L2134.5 516.0L2135.1 512.0L2135.0 508.0L2135.4 504.0L2136.2 500.0L2136.3 495.2L2136.7 490.5L2137.1 485.7L2138.0 481.0L2138.4 476.4L2139.4 471.8L2139.8 467.2L2140.4 462.5L2140.4 457.9L2140.8 453.2L2141.3 448.6L2142.2 444.0L2142.9 439.3L2143.3 434.5L2143.7 429.7L2144.4 425.0L2145.1 420.7L2145.6 416.3L2146.2 412.0L2146.8 408.0L2147.1 404.0L2147.2 400.0L2149.6 394.1L2150.8 387.5L2151.3 383.3L2151.4 379.0L2151.9 374.8L2151.8 370.5L2152.1 366.2L2152.3 362.0L2152.5 357.9L2153.3 353.9L2153.3 349.8L2153.4 345.7L2153.7 341.6L2154.4 337.5L2154.2 333.2L2154.1 328.9L2154.7 324.6L2154.8 320.3L2155.2 316.0L2154.6 311.8L2155.1 307.6L2155.5 303.4L2155.6 299.2L2155.8 295.0L2155.6 291.0L2156.3 287.0L2157.2 280.0L2160.0 276.0L2162.5 272.5L2162.9 267.8L2163.5 263.1L2163.9 258.4L2164.4 253.7L2164.8 249.0L2165.1 245.0L2165.3 241.0L2165.5 237.0L2165.8 233.0L2166.1 229.0L2166.2 224.1L2166.6 219.2L2166.9 214.3L2167.0 209.4L2167.4 205.3L2167.6 201.2L2167.9 197.1L2168.2 193.0L2168.7 187.9L2169.1 182.7L2169.4 177.6L2170.2 172.4L2171.1 167.3L2173.5 165.5L2175.9 164.0L2177.5 159.4L2180.5 158.0L2183.8 157.0L2185.9 163.0L2187.9 170.0L2188.0 174.6L2188.2 179.2L2188.2 183.8L2188.4 188.4L2188.7 193.0L2188.8 197.3L2188.8 201.7L2188.8 206.0L2188.9 210.3L2189.1 214.6L2189.2 219.0L2189.1 223.3L2189.3 227.6L2189.4 232.0L2189.4 236.3L2189.8 232.0L2190.0 227.8L2190.3 223.5L2190.6 219.3L2190.9 215.0L2191.5 210.0L2192.1 205.0L2192.5 200.0L2193.9 207.0L2194.3 211.0L2195.1 215.0L2195.5 211.0L2196.3 207.0L2197.5 200.0L2197.6 204.2L2197.9 208.3L2198.0 212.5L2198.2 216.7L2198.5 220.8L2198.7 225.0L2198.7 229.2L2198.9 233.5L2199.0 237.7L2199.3 241.9L2199.4 246.1L2199.6 250.4L2199.7 254.6L2199.8 250.5L2200.1 246.4L2200.4 242.3L2200.7 238.2L2200.7 234.1L2201.0 230.0L2201.3 225.8L2201.5 221.7L2201.5 217.5L2201.7 213.3L2202.1 209.2L2202.3 205.0L2202.4 200.8L2202.5 196.7L2202.9 192.5L2203.0 188.3L2203.4 184.2L2203.5 180.0L2203.9 175.1L2204.1 170.1L2204.5 165.2L2204.7 160.2L2205.2 164.8L2205.4 169.3L2205.7 173.9L2206.2 178.4L2206.6 183.0L2206.9 187.4L2207.2 191.8L2207.5 196.2L2207.9 200.6L2208.3 205.0L2208.5 209.6L2208.8 214.2L2209.3 218.8L2209.5 223.4L2209.8 228.0L2210.3 232.4L2210.5 236.7L2211.0 241.1L2211.2 245.4L2211.6 249.8L2211.9 245.2L2212.0 240.5L2212.3 235.9L2212.6 231.3L2212.7 226.6L2213.0 222.0L2213.2 217.5L2213.4 213.0L2213.5 208.5L2213.9 204.0L2214.1 199.5L2214.2 195.0L2214.6 190.5L2214.8 186.0L2215.0 181.5L2215.2 177.0L2215.5 172.5L2215.6 168.0L2215.9 163.7L2216.2 159.5L2216.4 155.2L2216.7 151.0L2217.0 146.7"/>
</g>
<g stroke="#000" stroke-width="6.8" stroke-linecap="round" fill="none">
<line x1="805.7" y1="326.6" x2="805.7" y2="1394" stroke-dasharray="23.8 34.1"/>
<line x1="1678.9" y1="399.4" x2="1672.9" y2="1521.8" stroke-dasharray="22.7 35.2"/>
<line x1="1711.6" y1="399.4" x2="1705.4" y2="1521.8" stroke-dasharray="22.7 35.2"/>
<line x1="1752.5" y1="306" x2="2195" y2="301.5" stroke-dasharray="21.9 36.0"/>
<line x1="1752" y1="288.5" x2="1752" y2="322.5"/>
</g>
<line x1="2213.2" y1="284.5" x2="2213.2" y2="319.5" stroke="#000" stroke-width="9.5" stroke-linecap="round"/>
<path fill="#000" stroke="#000" stroke-width="1" stroke-linejoin="round" d="M791.9 1416.3 L797.9 1416.3 Q800.4 1424.3 805.6 1424.3 Q810.9 1424.3 813.4 1416.3 L819.4 1416.3 L807.1 1461.5 Q805.6 1465.5 804.1 1461.5 Z"/>
<path fill="#000" stroke="#000" stroke-width="1" stroke-linejoin="round" d="M1659.9 1542.2 L1665.9 1542.2 Q1668.4 1552.7 1672.4 1552.7 Q1676.4 1552.7 1678.9 1542.2 L1684.9 1542.2 L1673.9 1585.5 Q1672.4 1589.5 1670.9 1585.5 Z"/>
<path fill="#000" stroke="#000" stroke-width="1" stroke-linejoin="round" d="M1691.7 1542.2 L1697.7 1542.2 Q1700.2 1552.7 1704.2 1552.7 Q1708.2 1552.7 1710.7 1542.2 L1716.7 1542.2 L1705.7 1585.5 Q1704.2 1589.5 1702.7 1585.5 Z"/>
<rect x="153.7" y="34.2" width="2064.3" height="1663.6" fill="none" stroke="#000" stroke-width="6.6"/>
<g stroke="#000" stroke-width="6.6" stroke-linecap="round">
<line x1="153.7" y1="1697.8" x2="153.7" y2="1730.3"/>
<line x1="268.4" y1="1697.8" x2="268.4" y2="1713.6"/>
<line x1="383.1" y1="1697.8" x2="383.1" y2="1730.3"/>
<line x1="497.8" y1="1697.8" x2="497.8" y2="1713.6"/>
<line x1="612.4" y1="1697.8" x2="612.4" y2="1730.3"/>
<line x1="727.1" y1="1697.8" x2="727.1" y2="1713.6"/>
<line x1="841.8" y1="1697.8" x2="841.8" y2="1730.3"/>
<line x1="956.5" y1="1697.8" x2="956.5" y2="1713.6"/>
<line x1="1071.2" y1="1697.8" x2="1071.2" y2="1730.3"/>
<line x1="1185.9" y1="1697.8" x2="1185.9" y2="1713.6"/>
<line x1="1300.5" y1="1697.8" x2="1300.5" y2="1730.3"/>
<line x1="1415.2" y1="1697.8" x2="1415.2" y2="1713.6"/>
<line x1="1529.9" y1="1697.8" x2="1529.9" y2="1730.3"/>
<line x1="1644.6" y1="1697.8" x2="1644.6" y2="1713.6"/>
<line x1="1759.3" y1="1697.8" x2="1759.3" y2="1730.3"/>
<line x1="1874.0" y1="1697.8" x2="1874.0" y2="1713.6"/>
<line x1="1988.6" y1="1697.8" x2="1988.6" y2="1730.3"/>
<line x1="2103.3" y1="1697.8" x2="2103.3" y2="1713.6"/>
<line x1="2218.0" y1="1697.8" x2="2218.0" y2="1730.3"/>
</g>
<g font-family="'Liberation Sans', sans-serif" font-size="70.5" text-anchor="middle" fill="#000">
<text x="152.7" y="1806.4">2200</text>
<text x="382.1" y="1806.4">2000</text>
<text x="611.4" y="1806.4">1800</text>
<text x="840.8" y="1806.4">1600</text>
<text x="1070.2" y="1806.4">1400</text>
<text x="1299.5" y="1806.4">1200</text>
<text x="1528.9" y="1806.4">1000</text>
<text x="1758.3" y="1806.4">800</text>
<text x="1987.6" y="1806.4">600</text>
<text x="2217.0" y="1806.4">400</text>
</g>
<g font-family="'Liberation Sans', sans-serif" font-size="83" fill="#000" transform="translate(0 1895.5) scale(1 1.035) translate(0 -1895.5)">
<text y="1895.5"><tspan x="795.6" letter-spacing="2.7">Wave </tspan><tspan x="1037.6" letter-spacing="2.0">number </tspan><tspan x="1353.5" letter-spacing="3">(cm</tspan><tspan x="1499" y="1853" font-size="46">-1</tspan><tspan x="1547.5" y="1895.5">)</tspan></text>
</g>
<text transform="translate(109.7 1134.5) rotate(-90) scale(1 1.05)" font-family="'Liberation Sans', sans-serif" font-size="110" fill="#000" dx="0 0 0 0 0 0 0 0 0 0 -1.5 -1 3 0 2.5">Intensity (a.u)</text>
<g font-family="'Liberation Sans', sans-serif" font-weight="bold" font-size="58" letter-spacing="-0.58" fill="#000">
<text x="172.7" y="108">PON-150 <tspan font-weight="normal">°</tspan>C/30min</text>
<text x="163.5" y="513.7">Cu-PON-150 <tspan font-weight="normal">°</tspan>C/20min</text>
<text x="160.3" y="732.3">Cu-PON-150 <tspan font-weight="normal">°</tspan>C/30min</text>
<text x="160.3" y="1010">Cu-PON-100 <tspan font-weight="normal">°</tspan>C/30min</text>
<text x="160.3" y="1212">Cu-PON-80 <tspan font-weight="normal">°</tspan>C/30min</text>
</g>
<text x="682" y="1513.7" font-family="'Liberation Sans', sans-serif" font-size="73" fill="#000"><tspan font-family="'Liberation Serif', 'DejaVu Serif', serif" font-size="76">ν</tspan><tspan x="716.9" letter-spacing="-0.85">(O-H)</tspan></text>
<text x="1779.5" y="264" font-family="'Liberation Sans', sans-serif" font-size="73" fill="#000"><tspan font-family="'Liberation Serif', 'DejaVu Serif', serif" font-size="76">ν</tspan><tspan x="1815.6" letter-spacing="-0.85">(Nb-O-Nb)</tspan></text>
<text x="1555" y="1654.5" font-family="'Liberation Sans', sans-serif" font-size="73" fill="#000"><tspan font-family="'Liberation Serif', 'DejaVu Serif', serif" font-size="76">ν</tspan><tspan x="1591.4" letter-spacing="-0.85">(Nb-O<tspan font-weight="bold" font-size="46" dy="24">t</tspan><tspan dy="-24">)</tspan></tspan></text>
</g>
</svg>
</body></html>
